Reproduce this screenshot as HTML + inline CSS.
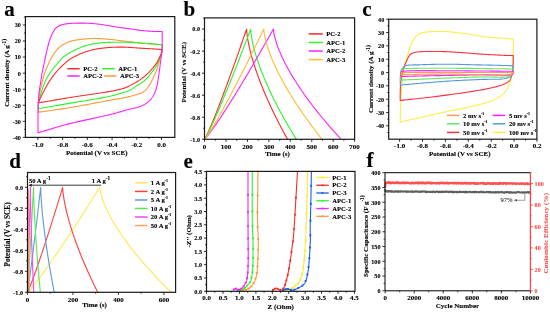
<!DOCTYPE html>
<html><head><meta charset="utf-8"><style>
html,body{margin:0;padding:0;background:#fff;width:550px;height:312px;overflow:hidden}
svg{display:block;font-family:"Liberation Serif", serif;will-change:transform;filter:blur(0.3px)}
</style></head><body>
<svg width="550" height="312" viewBox="0 0 550 312">
<rect x="0" y="0" width="550" height="312" fill="#fff"/>
<path d="M38.1,112.3 L40.92,111.89 L43.73,111.49 L46.53,111.09 L49.33,110.69 L52.13,110.3 L54.94,109.9 L57.75,109.5 L60.57,109.09 L63.4,108.66 L66.24,108.23 L69.11,107.77 L72,107.3 L75.17,106.76 L78.5,106.17 L81.93,105.54 L85.42,104.88 L88.93,104.22 L92.4,103.55 L95.8,102.9 L99.07,102.26 L102.17,101.67 L105.06,101.12 L107.68,100.62 L110,100.2 L111.06,100.01 L112.06,99.84 L113,99.68 L113.89,99.53 L114.73,99.39 L115.54,99.26 L116.32,99.14 L117.07,99.01 L117.81,98.89 L118.54,98.76 L119.27,98.63 L120,98.5 L120.58,98.39 L121.13,98.29 L121.67,98.19 L122.19,98.09 L122.69,97.99 L123.2,97.89 L123.7,97.78 L124.21,97.68 L124.73,97.57 L125.26,97.45 L125.82,97.33 L126.4,97.2 L127.18,97.02 L128.01,96.84 L128.87,96.64 L129.75,96.44 L130.65,96.23 L131.56,96.01 L132.47,95.78 L133.37,95.56 L134.25,95.32 L135.1,95.08 L135.92,94.84 L136.7,94.6 L137.31,94.4 L137.92,94.2 L138.52,94 L139.11,93.79 L139.69,93.58 L140.25,93.37 L140.8,93.15 L141.33,92.93 L141.83,92.7 L142.32,92.47 L142.77,92.24 L143.2,92 L143.48,91.83 L143.75,91.66 L143.99,91.49 L144.23,91.32 L144.46,91.14 L144.67,90.96 L144.88,90.78 L145.09,90.6 L145.29,90.41 L145.49,90.21 L145.69,90.01 L145.9,89.8 L146.12,89.57 L146.33,89.34 L146.53,89.09 L146.74,88.85 L146.93,88.59 L147.13,88.34 L147.32,88.07 L147.52,87.81 L147.71,87.53 L147.91,87.26 L148.1,86.98 L148.3,86.7 L148.53,86.38 L148.76,86.05 L148.99,85.72 L149.22,85.38 L149.45,85.03 L149.68,84.68 L149.91,84.33 L150.13,83.97 L150.36,83.61 L150.57,83.24 L150.79,82.87 L151,82.5 L151.22,82.1 L151.43,81.7 L151.63,81.29 L151.83,80.88 L152.02,80.47 L152.22,80.05 L152.41,79.62 L152.6,79.19 L152.8,78.75 L152.99,78.31 L153.19,77.86 L153.4,77.4 L153.65,76.85 L153.91,76.29 L154.18,75.72 L154.45,75.13 L154.72,74.54 L154.99,73.94 L155.26,73.34 L155.53,72.73 L155.79,72.12 L156.04,71.51 L156.27,70.9 L156.5,70.3 L156.71,69.7 L156.91,69.09 L157.1,68.47 L157.29,67.84 L157.47,67.21 L157.65,66.59 L157.81,65.97 L157.98,65.36 L158.14,64.76 L158.29,64.19 L158.45,63.63 L158.6,63.1 L158.71,62.72 L158.82,62.36 L158.92,62 L159.02,61.66 L159.12,61.33 L159.22,61 L159.31,60.68 L159.41,60.35 L159.5,60.03 L159.6,59.69 L159.7,59.35 L159.8,59 L159.92,58.6 L160.03,58.19 L160.16,57.78 L160.28,57.36 L160.4,56.94 L160.52,56.52 L160.64,56.09 L160.76,55.67 L160.88,55.25 L160.99,54.83 L161.1,54.41 L161.2,54 L161.29,53.62 L161.37,53.24 L161.45,52.86 L161.53,52.49 L161.6,52.11 L161.68,51.74 L161.75,51.37 L161.81,50.99 L161.88,50.62 L161.95,50.25 L162.03,49.87 L162.1,49.5 L162.1,49.5 L162.1,49.1 L162.1,48.7 L162.1,48.3 L162.1,47.9 L162.1,47.5 L162.1,47.1 L162.1,46.7 L162.1,46.3 L162.1,45.9 L162.1,45.5 L162.1,45.1 L162.1,44.7 L162.1,44.7 L161.4,44.65 L160.7,44.6 L160,44.55 L159.31,44.51 L158.62,44.46 L157.92,44.41 L157.22,44.36 L156.52,44.31 L155.81,44.26 L155.08,44.21 L154.35,44.16 L153.6,44.1 L152.72,44.03 L151.82,43.97 L150.91,43.9 L149.98,43.83 L149.04,43.76 L148.09,43.69 L147.14,43.61 L146.19,43.54 L145.23,43.46 L144.28,43.38 L143.34,43.29 L142.4,43.2 L141.46,43.1 L140.5,43 L139.54,42.9 L138.57,42.78 L137.61,42.67 L136.64,42.55 L135.69,42.44 L134.75,42.32 L133.83,42.21 L132.92,42.1 L132.05,42 L131.2,41.9 L130.55,41.83 L129.93,41.76 L129.33,41.69 L128.74,41.63 L128.17,41.57 L127.61,41.51 L127.04,41.45 L126.46,41.38 L125.88,41.32 L125.28,41.25 L124.65,41.18 L124,41.1 L123.13,40.99 L122.23,40.87 L121.29,40.75 L120.33,40.62 L119.35,40.48 L118.36,40.34 L117.36,40.21 L116.36,40.07 L115.37,39.94 L114.39,39.82 L113.43,39.7 L112.5,39.6 L111.66,39.51 L110.84,39.43 L110.02,39.35 L109.21,39.27 L108.4,39.2 L107.6,39.13 L106.8,39.07 L106,39.01 L105.2,38.95 L104.41,38.9 L103.6,38.85 L102.8,38.8 L102,38.75 L101.2,38.71 L100.4,38.67 L99.6,38.63 L98.8,38.59 L98,38.56 L97.2,38.54 L96.4,38.52 L95.6,38.5 L94.8,38.49 L94,38.49 L93.2,38.5 L92.39,38.52 L91.57,38.54 L90.74,38.58 L89.9,38.62 L89.07,38.67 L88.24,38.72 L87.42,38.78 L86.61,38.84 L85.82,38.9 L85.05,38.97 L84.31,39.03 L83.6,39.1 L83.08,39.15 L82.58,39.2 L82.1,39.25 L81.63,39.31 L81.17,39.36 L80.72,39.42 L80.28,39.47 L79.83,39.54 L79.39,39.6 L78.93,39.66 L78.47,39.73 L78,39.8 L77.48,39.88 L76.96,39.95 L76.43,40.03 L75.89,40.1 L75.35,40.18 L74.81,40.27 L74.28,40.36 L73.74,40.45 L73.22,40.55 L72.7,40.66 L72.19,40.77 L71.7,40.9 L71.26,41.02 L70.84,41.15 L70.42,41.28 L70,41.42 L69.59,41.56 L69.19,41.71 L68.79,41.86 L68.39,42.02 L67.99,42.18 L67.6,42.35 L67.2,42.52 L66.8,42.7 L66.39,42.89 L65.98,43.08 L65.58,43.27 L65.17,43.47 L64.77,43.67 L64.37,43.88 L63.97,44.09 L63.57,44.32 L63.17,44.55 L62.78,44.79 L62.39,45.04 L62,45.3 L61.59,45.59 L61.17,45.89 L60.76,46.19 L60.35,46.51 L59.95,46.83 L59.54,47.16 L59.14,47.51 L58.74,47.86 L58.35,48.23 L57.96,48.61 L57.58,49 L57.2,49.4 L56.77,49.88 L56.34,50.39 L55.92,50.91 L55.5,51.46 L55.09,52.02 L54.68,52.59 L54.28,53.17 L53.88,53.76 L53.5,54.34 L53.12,54.93 L52.76,55.52 L52.4,56.1 L52.07,56.66 L51.75,57.22 L51.44,57.78 L51.14,58.34 L50.85,58.9 L50.57,59.47 L50.29,60.04 L50.02,60.62 L49.74,61.2 L49.46,61.79 L49.18,62.39 L48.9,63 L48.58,63.68 L48.27,64.36 L47.95,65.04 L47.63,65.74 L47.31,66.44 L46.99,67.15 L46.68,67.87 L46.37,68.59 L46.07,69.33 L45.77,70.08 L45.48,70.83 L45.2,71.6 L44.9,72.47 L44.6,73.37 L44.31,74.28 L44.03,75.2 L43.76,76.14 L43.49,77.09 L43.23,78.04 L42.97,79 L42.72,79.95 L42.48,80.91 L42.24,81.86 L42,82.8 L41.77,83.73 L41.54,84.67 L41.32,85.62 L41.1,86.57 L40.89,87.52 L40.68,88.47 L40.48,89.41 L40.29,90.35 L40.1,91.28 L39.93,92.2 L39.76,93.11 L39.6,94 L39.47,94.78 L39.34,95.55 L39.22,96.31 L39.1,97.06 L38.99,97.81 L38.89,98.55 L38.79,99.28 L38.7,100.02 L38.62,100.76 L38.54,101.5 L38.47,102.25 L38.4,103 L38.34,103.77 L38.3,104.54 L38.26,105.31 L38.23,106.09 L38.21,106.86 L38.19,107.64 L38.18,108.42 L38.17,109.19 L38.15,109.97 L38.14,110.75 L38.12,111.52 L38.1,112.3" fill="none" stroke="#ff9838" stroke-width="1.1" stroke-linejoin="round" stroke-linecap="round" />
<path d="M38.1,108.7 L40.92,108.22 L43.73,107.74 L46.53,107.26 L49.33,106.78 L52.13,106.3 L54.93,105.83 L57.74,105.35 L60.56,104.86 L63.39,104.38 L66.24,103.89 L69.11,103.4 L72,102.9 L75.17,102.36 L78.49,101.81 L81.93,101.25 L85.42,100.68 L88.93,100.1 L92.41,99.53 L95.81,98.96 L99.08,98.4 L102.18,97.85 L105.07,97.31 L107.69,96.8 L110,96.3 L111.07,96.05 L112.05,95.81 L112.97,95.58 L113.82,95.35 L114.63,95.13 L115.41,94.91 L116.16,94.68 L116.91,94.46 L117.65,94.23 L118.41,93.99 L119.19,93.75 L120,93.5 L120.87,93.24 L121.75,92.98 L122.65,92.73 L123.56,92.47 L124.46,92.21 L125.36,91.94 L126.25,91.66 L127.12,91.38 L127.97,91.08 L128.79,90.77 L129.56,90.44 L130.3,90.1 L130.85,89.81 L131.38,89.5 L131.89,89.19 L132.37,88.86 L132.84,88.52 L133.3,88.18 L133.75,87.84 L134.2,87.5 L134.64,87.16 L135.09,86.83 L135.54,86.51 L136,86.2 L136.43,85.93 L136.86,85.66 L137.29,85.41 L137.72,85.16 L138.15,84.91 L138.57,84.67 L139,84.42 L139.42,84.17 L139.84,83.92 L140.26,83.66 L140.68,83.38 L141.1,83.1 L141.54,82.79 L141.98,82.48 L142.43,82.17 L142.87,81.85 L143.31,81.53 L143.74,81.19 L144.18,80.86 L144.61,80.51 L145.04,80.15 L145.47,79.78 L145.89,79.4 L146.3,79 L146.75,78.55 L147.19,78.08 L147.63,77.59 L148.06,77.09 L148.48,76.57 L148.91,76.05 L149.32,75.52 L149.74,74.98 L150.16,74.44 L150.57,73.89 L150.99,73.35 L151.4,72.8 L151.84,72.22 L152.3,71.63 L152.75,71.02 L153.22,70.41 L153.68,69.79 L154.13,69.16 L154.58,68.55 L155.01,67.93 L155.42,67.33 L155.81,66.73 L156.17,66.16 L156.5,65.6 L156.73,65.19 L156.94,64.79 L157.14,64.39 L157.32,64 L157.5,63.62 L157.66,63.24 L157.82,62.86 L157.98,62.48 L158.13,62.11 L158.28,61.74 L158.44,61.37 L158.6,61 L158.75,60.66 L158.9,60.32 L159.05,59.98 L159.2,59.64 L159.35,59.3 L159.49,58.97 L159.63,58.64 L159.77,58.31 L159.91,57.98 L160.04,57.65 L160.17,57.32 L160.3,57 L160.41,56.7 L160.53,56.41 L160.64,56.11 L160.75,55.82 L160.86,55.53 L160.96,55.24 L161.06,54.95 L161.16,54.67 L161.25,54.38 L161.34,54.09 L161.42,53.79 L161.5,53.5 L161.57,53.21 L161.63,52.92 L161.69,52.63 L161.74,52.34 L161.79,52.05 L161.84,51.75 L161.88,51.46 L161.92,51.17 L161.96,50.88 L162.01,50.58 L162.05,50.29 L162.1,50 L162.1,50 L162.1,49.55 L162.1,49.1 L162.1,48.65 L162.1,48.2 L162.1,47.75 L162.1,47.3 L162.1,46.85 L162.1,46.4 L162.1,45.95 L162.1,45.5 L162.1,45.05 L162.1,44.6 L162.1,44.6 L161.4,44.55 L160.7,44.5 L160,44.45 L159.31,44.4 L158.62,44.35 L157.92,44.31 L157.22,44.26 L156.52,44.21 L155.81,44.16 L155.08,44.11 L154.35,44.05 L153.6,44 L152.72,43.94 L151.82,43.87 L150.91,43.81 L149.98,43.74 L149.04,43.68 L148.1,43.61 L147.14,43.54 L146.19,43.47 L145.24,43.4 L144.28,43.33 L143.34,43.27 L142.4,43.2 L141.46,43.13 L140.5,43.06 L139.54,42.99 L138.58,42.91 L137.61,42.84 L136.65,42.76 L135.69,42.69 L134.75,42.62 L133.83,42.56 L132.92,42.5 L132.05,42.45 L131.2,42.4 L130.55,42.37 L129.93,42.34 L129.33,42.32 L128.75,42.3 L128.17,42.28 L127.61,42.26 L127.04,42.25 L126.47,42.23 L125.88,42.22 L125.28,42.21 L124.65,42.21 L124,42.2 L123.13,42.19 L122.23,42.19 L121.29,42.19 L120.33,42.19 L119.35,42.2 L118.36,42.2 L117.36,42.21 L116.36,42.23 L115.37,42.24 L114.39,42.26 L113.43,42.28 L112.5,42.3 L111.66,42.32 L110.83,42.34 L110.01,42.36 L109.2,42.38 L108.4,42.41 L107.59,42.43 L106.79,42.46 L106,42.5 L105.2,42.54 L104.4,42.58 L103.6,42.64 L102.8,42.7 L102,42.77 L101.19,42.84 L100.39,42.92 L99.59,43 L98.79,43.08 L97.99,43.18 L97.19,43.28 L96.39,43.38 L95.59,43.5 L94.79,43.62 L94,43.76 L93.2,43.9 L92.39,44.06 L91.56,44.22 L90.73,44.4 L89.89,44.59 L89.05,44.78 L88.22,44.99 L87.4,45.2 L86.59,45.41 L85.8,45.63 L85.04,45.85 L84.3,46.07 L83.6,46.3 L83.07,46.48 L82.56,46.66 L82.06,46.85 L81.57,47.04 L81.1,47.24 L80.63,47.43 L80.18,47.63 L79.73,47.83 L79.29,48.02 L78.86,48.22 L78.43,48.41 L78,48.6 L77.64,48.76 L77.29,48.92 L76.95,49.07 L76.62,49.23 L76.29,49.38 L75.96,49.54 L75.64,49.69 L75.31,49.85 L74.99,50.01 L74.66,50.17 L74.33,50.33 L74,50.5 L73.65,50.68 L73.3,50.85 L72.95,51.03 L72.6,51.2 L72.26,51.38 L71.91,51.56 L71.55,51.75 L71.2,51.94 L70.83,52.14 L70.46,52.35 L70.09,52.57 L69.7,52.8 L69.18,53.11 L68.63,53.45 L68.05,53.8 L67.47,54.16 L66.87,54.54 L66.27,54.93 L65.67,55.32 L65.08,55.72 L64.52,56.12 L63.98,56.52 L63.47,56.91 L63,57.3 L62.66,57.61 L62.33,57.92 L62.02,58.23 L61.72,58.54 L61.43,58.86 L61.16,59.18 L60.89,59.49 L60.63,59.8 L60.37,60.11 L60.11,60.41 L59.86,60.71 L59.6,61 L59.39,61.24 L59.18,61.46 L58.98,61.68 L58.79,61.9 L58.6,62.11 L58.41,62.32 L58.22,62.53 L58.02,62.75 L57.83,62.97 L57.63,63.2 L57.42,63.45 L57.2,63.7 L56.9,64.05 L56.6,64.41 L56.28,64.78 L55.96,65.15 L55.63,65.54 L55.3,65.94 L54.96,66.35 L54.62,66.78 L54.27,67.21 L53.92,67.66 L53.56,68.12 L53.2,68.6 L52.7,69.27 L52.18,69.97 L51.63,70.71 L51.07,71.47 L50.5,72.25 L49.93,73.06 L49.37,73.87 L48.81,74.7 L48.27,75.53 L47.75,76.36 L47.26,77.18 L46.8,78 L46.39,78.78 L46,79.57 L45.63,80.36 L45.27,81.16 L44.93,81.97 L44.6,82.77 L44.28,83.58 L43.97,84.39 L43.67,85.2 L43.37,86 L43.09,86.8 L42.8,87.6 L42.54,88.35 L42.28,89.1 L42.03,89.86 L41.79,90.62 L41.55,91.37 L41.33,92.12 L41.11,92.87 L40.89,93.61 L40.68,94.35 L40.48,95.08 L40.29,95.79 L40.1,96.5 L39.94,97.11 L39.78,97.72 L39.62,98.33 L39.47,98.93 L39.32,99.52 L39.18,100.11 L39.04,100.69 L38.92,101.27 L38.8,101.84 L38.69,102.4 L38.59,102.95 L38.5,103.5 L38.44,103.96 L38.38,104.41 L38.34,104.85 L38.3,105.29 L38.27,105.72 L38.24,106.14 L38.22,106.57 L38.2,106.99 L38.18,107.42 L38.16,107.84 L38.13,108.27 L38.1,108.7" fill="none" stroke="#2bf52b" stroke-width="1.1" stroke-linejoin="round" stroke-linecap="round" />
<path d="M38.1,102.9 L38.78,102.79 L39.43,102.68 L40.07,102.57 L40.7,102.46 L41.33,102.36 L41.97,102.25 L42.62,102.14 L43.3,102.02 L44,101.9 L44.75,101.78 L45.55,101.64 L46.4,101.5 L48.03,101.22 L49.79,100.92 L51.69,100.6 L53.7,100.25 L55.81,99.89 L58,99.52 L60.26,99.14 L62.57,98.75 L64.91,98.35 L67.28,97.96 L69.64,97.58 L72,97.2 L74.98,96.74 L78.18,96.25 L81.55,95.76 L85.02,95.26 L88.54,94.75 L92.06,94.25 L95.53,93.75 L98.87,93.26 L102.05,92.79 L105,92.33 L107.67,91.9 L110,91.5 L111.07,91.31 L112.06,91.13 L112.99,90.96 L113.86,90.8 L114.69,90.64 L115.49,90.48 L116.25,90.32 L117,90.15 L117.74,89.98 L118.48,89.8 L119.23,89.61 L120,89.4 L120.7,89.2 L121.4,89 L122.08,88.79 L122.75,88.58 L123.42,88.36 L124.08,88.14 L124.74,87.9 L125.39,87.66 L126.04,87.41 L126.69,87.15 L127.35,86.88 L128,86.6 L128.68,86.29 L129.37,85.96 L130.07,85.62 L130.76,85.26 L131.45,84.89 L132.14,84.52 L132.82,84.14 L133.49,83.76 L134.14,83.39 L134.78,83.02 L135.4,82.65 L136,82.3 L136.47,82.02 L136.93,81.75 L137.37,81.48 L137.8,81.21 L138.22,80.94 L138.64,80.68 L139.05,80.41 L139.46,80.14 L139.86,79.86 L140.27,79.58 L140.68,79.3 L141.1,79 L141.54,78.68 L141.98,78.37 L142.42,78.04 L142.85,77.71 L143.29,77.38 L143.73,77.04 L144.16,76.7 L144.6,76.35 L145.03,76 L145.45,75.64 L145.88,75.27 L146.3,74.9 L146.74,74.5 L147.17,74.1 L147.61,73.69 L148.04,73.27 L148.47,72.85 L148.89,72.42 L149.32,71.98 L149.74,71.54 L150.16,71.09 L150.57,70.63 L150.99,70.17 L151.4,69.7 L151.85,69.18 L152.3,68.64 L152.76,68.08 L153.23,67.52 L153.69,66.94 L154.14,66.36 L154.58,65.78 L155.01,65.21 L155.42,64.65 L155.81,64.11 L156.17,63.59 L156.5,63.1 L156.71,62.77 L156.91,62.45 L157.1,62.15 L157.27,61.85 L157.44,61.55 L157.6,61.26 L157.75,60.98 L157.9,60.69 L158.05,60.4 L158.2,60.11 L158.35,59.81 L158.5,59.5 L158.66,59.18 L158.82,58.84 L158.98,58.51 L159.14,58.17 L159.29,57.83 L159.44,57.48 L159.59,57.14 L159.74,56.8 L159.89,56.47 L160.03,56.14 L160.17,55.82 L160.3,55.5 L160.41,55.24 L160.53,54.98 L160.64,54.72 L160.75,54.47 L160.85,54.22 L160.96,53.98 L161.06,53.73 L161.16,53.49 L161.25,53.24 L161.34,53 L161.42,52.75 L161.5,52.5 L161.57,52.26 L161.63,52.02 L161.69,51.78 L161.74,51.54 L161.79,51.29 L161.83,51.05 L161.88,50.81 L161.92,50.57 L161.96,50.33 L162.01,50.08 L162.05,49.84 L162.1,49.6 L162.1,49.6 L161.4,49.54 L160.7,49.48 L160,49.42 L159.31,49.36 L158.62,49.3 L157.92,49.24 L157.23,49.18 L156.52,49.12 L155.81,49.06 L155.08,49.01 L154.35,48.95 L153.6,48.9 L152.72,48.84 L151.82,48.79 L150.91,48.74 L149.98,48.69 L149.04,48.64 L148.1,48.6 L147.14,48.55 L146.19,48.51 L145.24,48.46 L144.28,48.41 L143.34,48.36 L142.4,48.3 L141.46,48.24 L140.5,48.17 L139.54,48.11 L138.58,48.04 L137.61,47.96 L136.65,47.89 L135.69,47.82 L134.75,47.75 L133.83,47.68 L132.92,47.62 L132.05,47.56 L131.2,47.5 L130.55,47.46 L129.93,47.42 L129.33,47.37 L128.75,47.33 L128.17,47.29 L127.61,47.26 L127.04,47.22 L126.47,47.19 L125.88,47.16 L125.28,47.14 L124.65,47.12 L124,47.1 L123.13,47.09 L122.23,47.08 L121.29,47.08 L120.33,47.08 L119.35,47.09 L118.36,47.11 L117.36,47.13 L116.36,47.15 L115.37,47.18 L114.39,47.22 L113.43,47.26 L112.5,47.3 L111.66,47.34 L110.83,47.39 L110.01,47.44 L109.2,47.49 L108.39,47.55 L107.59,47.61 L106.79,47.68 L105.99,47.75 L105.2,47.83 L104.4,47.91 L103.6,48 L102.8,48.1 L102,48.2 L101.19,48.31 L100.39,48.41 L99.59,48.53 L98.79,48.65 L97.98,48.77 L97.18,48.9 L96.39,49.04 L95.59,49.19 L94.79,49.35 L93.99,49.52 L93.2,49.7 L92.39,49.89 L91.59,50.09 L90.78,50.3 L89.98,50.52 L89.18,50.75 L88.38,50.99 L87.58,51.24 L86.78,51.49 L85.98,51.75 L85.19,52.03 L84.39,52.31 L83.6,52.6 L82.78,52.91 L81.94,53.25 L81.09,53.6 L80.24,53.96 L79.38,54.34 L78.54,54.72 L77.71,55.1 L76.9,55.48 L76.12,55.85 L75.37,56.21 L74.66,56.56 L74,56.9 L73.57,57.12 L73.16,57.34 L72.77,57.55 L72.39,57.76 L72.02,57.96 L71.67,58.17 L71.32,58.37 L70.98,58.57 L70.66,58.78 L70.33,58.98 L70.01,59.19 L69.7,59.4 L69.44,59.58 L69.19,59.76 L68.95,59.94 L68.71,60.12 L68.48,60.3 L68.25,60.48 L68.03,60.66 L67.8,60.85 L67.58,61.03 L67.36,61.22 L67.13,61.41 L66.9,61.6 L66.66,61.8 L66.43,61.99 L66.2,62.18 L65.97,62.37 L65.74,62.57 L65.51,62.76 L65.27,62.96 L65.04,63.17 L64.79,63.39 L64.54,63.61 L64.27,63.85 L64,64.1 L63.57,64.49 L63.12,64.91 L62.65,65.34 L62.16,65.79 L61.66,66.26 L61.15,66.75 L60.63,67.26 L60.1,67.78 L59.57,68.31 L59.04,68.86 L58.52,69.42 L58,70 L57.35,70.75 L56.68,71.54 L55.99,72.36 L55.3,73.22 L54.61,74.09 L53.91,74.99 L53.22,75.89 L52.54,76.81 L51.87,77.72 L51.22,78.63 L50.6,79.52 L50,80.4 L49.47,81.2 L48.95,82.02 L48.44,82.84 L47.94,83.66 L47.46,84.48 L46.98,85.31 L46.52,86.12 L46.07,86.93 L45.63,87.72 L45.21,88.5 L44.8,89.26 L44.4,90 L44.09,90.58 L43.8,91.15 L43.52,91.7 L43.24,92.25 L42.98,92.79 L42.72,93.32 L42.47,93.85 L42.22,94.38 L41.97,94.9 L41.72,95.43 L41.46,95.96 L41.2,96.5 L40.94,97.03 L40.68,97.57 L40.42,98.1 L40.16,98.64 L39.9,99.17 L39.65,99.7 L39.39,100.24 L39.13,100.77 L38.87,101.3 L38.62,101.83 L38.36,102.37 L38.1,102.9" fill="none" stroke="#ff2a2a" stroke-width="1.1" stroke-linejoin="round" stroke-linecap="round" />
<path d="M38,132.8 L38.69,132.6 L39.37,132.41 L40.05,132.22 L40.72,132.03 L41.39,131.84 L42.06,131.65 L42.74,131.46 L43.43,131.26 L44.14,131.06 L44.87,130.85 L45.62,130.63 L46.4,130.4 L47.48,130.08 L48.61,129.73 L49.79,129.37 L51.01,129 L52.26,128.61 L53.52,128.22 L54.79,127.82 L56.06,127.43 L57.31,127.05 L58.55,126.68 L59.74,126.33 L60.9,126 L61.85,125.73 L62.75,125.48 L63.62,125.24 L64.46,125.01 L65.29,124.79 L66.12,124.57 L66.97,124.35 L67.86,124.12 L68.79,123.89 L69.78,123.64 L70.84,123.38 L72,123.1 L74.45,122.52 L77.3,121.87 L80.48,121.16 L83.89,120.41 L87.46,119.63 L91.11,118.84 L94.76,118.04 L98.31,117.27 L101.69,116.52 L104.82,115.81 L107.62,115.17 L110,114.6 L111.07,114.33 L112.07,114.08 L113.01,113.84 L113.9,113.6 L114.74,113.38 L115.55,113.16 L116.32,112.94 L117.08,112.73 L117.81,112.52 L118.54,112.32 L119.27,112.11 L120,111.9 L120.58,111.73 L121.12,111.57 L121.65,111.42 L122.16,111.26 L122.66,111.11 L123.15,110.95 L123.65,110.8 L124.15,110.65 L124.68,110.49 L125.22,110.33 L125.79,110.17 L126.4,110 L127.32,109.76 L128.32,109.52 L129.37,109.29 L130.47,109.05 L131.6,108.8 L132.75,108.55 L133.9,108.29 L135.04,108.02 L136.15,107.74 L137.23,107.44 L138.25,107.13 L139.2,106.8 L139.93,106.52 L140.65,106.24 L141.34,105.95 L142.02,105.65 L142.69,105.35 L143.34,105.03 L143.97,104.71 L144.59,104.37 L145.19,104.03 L145.77,103.67 L146.34,103.29 L146.9,102.9 L147.4,102.53 L147.88,102.15 L148.35,101.76 L148.8,101.36 L149.25,100.95 L149.68,100.52 L150.1,100.09 L150.5,99.65 L150.89,99.2 L151.28,98.74 L151.64,98.28 L152,97.8 L152.34,97.31 L152.67,96.81 L152.98,96.3 L153.28,95.77 L153.57,95.24 L153.85,94.7 L154.11,94.15 L154.37,93.6 L154.61,93.05 L154.85,92.5 L155.08,91.95 L155.3,91.4 L155.5,90.88 L155.7,90.36 L155.88,89.84 L156.05,89.32 L156.21,88.8 L156.37,88.28 L156.52,87.75 L156.66,87.22 L156.8,86.68 L156.93,86.13 L157.07,85.57 L157.2,85 L157.35,84.34 L157.48,83.66 L157.61,82.97 L157.73,82.26 L157.85,81.55 L157.96,80.83 L158.07,80.11 L158.18,79.38 L158.28,78.66 L158.39,77.93 L158.49,77.21 L158.6,76.5 L158.71,75.79 L158.82,75.07 L158.92,74.36 L159.03,73.64 L159.13,72.92 L159.23,72.2 L159.33,71.48 L159.43,70.77 L159.53,70.07 L159.62,69.37 L159.71,68.68 L159.8,68 L159.88,67.39 L159.95,66.79 L160.01,66.19 L160.08,65.6 L160.14,65.01 L160.2,64.42 L160.26,63.84 L160.32,63.27 L160.39,62.69 L160.45,62.13 L160.52,61.56 L160.6,61 L160.68,60.48 L160.76,59.97 L160.84,59.45 L160.93,58.94 L161.02,58.44 L161.11,57.94 L161.2,57.44 L161.28,56.94 L161.37,56.45 L161.45,55.96 L161.53,55.48 L161.6,55 L161.66,54.57 L161.72,54.14 L161.77,53.72 L161.82,53.3 L161.87,52.89 L161.92,52.47 L161.96,52.06 L162.01,51.65 L162.06,51.24 L162.1,50.83 L162.15,50.42 L162.2,50 L162.2,50 L162.2,48.46 L162.2,46.92 L162.2,45.38 L162.2,43.83 L162.2,42.29 L162.2,40.75 L162.2,39.21 L162.2,37.67 L162.2,36.12 L162.2,34.58 L162.2,33.04 L162.2,31.5 L162.2,31.5 L161.49,31.49 L160.78,31.49 L160.08,31.49 L159.37,31.49 L158.67,31.49 L157.97,31.49 L157.26,31.48 L156.55,31.47 L155.83,31.46 L155.1,31.45 L154.36,31.43 L153.6,31.4 L152.72,31.36 L151.82,31.32 L150.9,31.27 L149.97,31.22 L149.04,31.16 L148.09,31.1 L147.14,31.03 L146.18,30.95 L145.23,30.87 L144.28,30.79 L143.34,30.7 L142.4,30.6 L141.47,30.49 L140.53,30.38 L139.6,30.25 L138.66,30.12 L137.73,29.98 L136.8,29.84 L135.86,29.7 L134.93,29.56 L134,29.41 L133.07,29.27 L132.13,29.13 L131.2,29 L130.26,28.87 L129.32,28.75 L128.38,28.62 L127.43,28.5 L126.49,28.37 L125.54,28.25 L124.6,28.13 L123.66,28.01 L122.73,27.88 L121.81,27.76 L120.9,27.63 L120,27.5 L119.19,27.38 L118.39,27.26 L117.62,27.14 L116.85,27.02 L116.09,26.9 L115.33,26.77 L114.56,26.65 L113.79,26.52 L113,26.39 L112.19,26.27 L111.36,26.13 L110.5,26 L109.39,25.83 L108.25,25.64 L107.07,25.44 L105.87,25.24 L104.64,25.03 L103.4,24.83 L102.14,24.63 L100.88,24.44 L99.63,24.25 L98.37,24.08 L97.13,23.93 L95.9,23.8 L94.69,23.69 L93.49,23.58 L92.28,23.49 L91.07,23.41 L89.86,23.33 L88.65,23.27 L87.45,23.22 L86.24,23.18 L85.03,23.14 L83.82,23.12 L82.61,23.1 L81.4,23.1 L80.17,23.1 L78.91,23.11 L77.63,23.13 L76.35,23.15 L75.06,23.19 L73.78,23.23 L72.52,23.29 L71.29,23.36 L70.09,23.44 L68.94,23.55 L67.84,23.66 L66.8,23.8 L66.09,23.9 L65.4,24.01 L64.73,24.12 L64.08,24.24 L63.45,24.36 L62.83,24.49 L62.24,24.64 L61.66,24.79 L61.09,24.97 L60.55,25.16 L60.02,25.37 L59.5,25.6 L59.08,25.81 L58.67,26.04 L58.27,26.28 L57.88,26.53 L57.51,26.79 L57.15,27.07 L56.8,27.35 L56.46,27.64 L56.13,27.94 L55.81,28.25 L55.5,28.57 L55.2,28.9 L54.91,29.24 L54.64,29.59 L54.38,29.96 L54.13,30.34 L53.89,30.73 L53.65,31.13 L53.43,31.53 L53.22,31.93 L53.01,32.33 L52.8,32.73 L52.6,33.12 L52.4,33.5 L52.22,33.84 L52.06,34.17 L51.89,34.51 L51.73,34.84 L51.58,35.17 L51.43,35.5 L51.29,35.84 L51.15,36.17 L51.01,36.5 L50.87,36.83 L50.73,37.16 L50.6,37.5 L50.47,37.83 L50.35,38.14 L50.23,38.45 L50.11,38.76 L50,39.07 L49.89,39.38 L49.78,39.7 L49.67,40.03 L49.55,40.37 L49.44,40.73 L49.32,41.1 L49.2,41.5 L49.01,42.16 L48.8,42.87 L48.6,43.63 L48.39,44.42 L48.17,45.25 L47.96,46.1 L47.74,46.96 L47.53,47.84 L47.31,48.71 L47.11,49.59 L46.9,50.45 L46.7,51.3 L46.5,52.17 L46.3,53.06 L46.1,53.95 L45.91,54.84 L45.71,55.74 L45.52,56.64 L45.33,57.54 L45.15,58.44 L44.96,59.34 L44.77,60.23 L44.59,61.12 L44.4,62 L44.22,62.84 L44.04,63.69 L43.85,64.52 L43.67,65.36 L43.49,66.19 L43.31,67.02 L43.13,67.85 L42.96,68.68 L42.79,69.5 L42.62,70.33 L42.46,71.17 L42.3,72 L42.15,72.84 L42,73.68 L41.86,74.52 L41.72,75.37 L41.59,76.22 L41.46,77.07 L41.33,77.91 L41.2,78.75 L41.08,79.58 L40.95,80.4 L40.83,81.21 L40.7,82 L40.59,82.7 L40.47,83.38 L40.36,84.05 L40.24,84.71 L40.13,85.37 L40.02,86.02 L39.9,86.68 L39.8,87.33 L39.69,87.99 L39.59,88.65 L39.49,89.32 L39.4,90 L39.31,90.73 L39.22,91.46 L39.13,92.19 L39.05,92.92 L38.96,93.66 L38.89,94.41 L38.81,95.16 L38.74,95.91 L38.68,96.67 L38.61,97.44 L38.56,98.22 L38.5,99 L38.44,99.86 L38.39,100.72 L38.35,101.58 L38.31,102.44 L38.28,103.3 L38.24,104.18 L38.22,105.08 L38.19,106 L38.17,106.94 L38.14,107.92 L38.12,108.94 L38.1,110 L38.07,111.61 L38.05,113.32 L38.04,115.12 L38.03,116.99 L38.02,118.92 L38.01,120.89 L38.01,122.88 L38.01,124.9 L38.01,126.91 L38.01,128.9 L38.01,130.87 L38,132.8" fill="none" stroke="#ff22ff" stroke-width="1.1" stroke-linejoin="round" stroke-linecap="round" />
<rect x="25.4" y="16.6" width="149.4" height="120.8" fill="none" stroke="#1a1a1a" stroke-width="1.2"/>
<line x1="37.9" y1="137.4" x2="37.9" y2="140" stroke="#000" stroke-width="0.8"/>
<line x1="62.62" y1="137.4" x2="62.62" y2="140" stroke="#000" stroke-width="0.8"/>
<line x1="87.34" y1="137.4" x2="87.34" y2="140" stroke="#000" stroke-width="0.8"/>
<line x1="112.06" y1="137.4" x2="112.06" y2="140" stroke="#000" stroke-width="0.8"/>
<line x1="136.78" y1="137.4" x2="136.78" y2="140" stroke="#000" stroke-width="0.8"/>
<line x1="161.5" y1="137.4" x2="161.5" y2="140" stroke="#000" stroke-width="0.8"/>
<line x1="50.26" y1="137.4" x2="50.26" y2="138.9" stroke="#000" stroke-width="0.7"/>
<line x1="74.98" y1="137.4" x2="74.98" y2="138.9" stroke="#000" stroke-width="0.7"/>
<line x1="99.7" y1="137.4" x2="99.7" y2="138.9" stroke="#000" stroke-width="0.7"/>
<line x1="124.42" y1="137.4" x2="124.42" y2="138.9" stroke="#000" stroke-width="0.7"/>
<line x1="149.14" y1="137.4" x2="149.14" y2="138.9" stroke="#000" stroke-width="0.7"/>
<text x="37.9" y="146.8" font-size="7.0" text-anchor="middle" fill="#000" font-weight="bold" stroke="#000" stroke-width="0.12" >-1.0</text>
<text x="62.62" y="146.8" font-size="7.0" text-anchor="middle" fill="#000" font-weight="bold" stroke="#000" stroke-width="0.12" >-0.8</text>
<text x="87.34" y="146.8" font-size="7.0" text-anchor="middle" fill="#000" font-weight="bold" stroke="#000" stroke-width="0.12" >-0.6</text>
<text x="112.06" y="146.8" font-size="7.0" text-anchor="middle" fill="#000" font-weight="bold" stroke="#000" stroke-width="0.12" >-0.4</text>
<text x="136.78" y="146.8" font-size="7.0" text-anchor="middle" fill="#000" font-weight="bold" stroke="#000" stroke-width="0.12" >-0.2</text>
<text x="161.5" y="146.8" font-size="7.0" text-anchor="middle" fill="#000" font-weight="bold" stroke="#000" stroke-width="0.12" >0.0</text>
<line x1="25.4" y1="137.4" x2="22.8" y2="137.4" stroke="#000" stroke-width="0.8"/>
<line x1="25.4" y1="121.34" x2="22.8" y2="121.34" stroke="#000" stroke-width="0.8"/>
<line x1="25.4" y1="105.28" x2="22.8" y2="105.28" stroke="#000" stroke-width="0.8"/>
<line x1="25.4" y1="89.22" x2="22.8" y2="89.22" stroke="#000" stroke-width="0.8"/>
<line x1="25.4" y1="73.16" x2="22.8" y2="73.16" stroke="#000" stroke-width="0.8"/>
<line x1="25.4" y1="57.1" x2="22.8" y2="57.1" stroke="#000" stroke-width="0.8"/>
<line x1="25.4" y1="41.04" x2="22.8" y2="41.04" stroke="#000" stroke-width="0.8"/>
<line x1="25.4" y1="24.98" x2="22.8" y2="24.98" stroke="#000" stroke-width="0.8"/>
<line x1="25.4" y1="129.37" x2="23.9" y2="129.37" stroke="#000" stroke-width="0.7"/>
<line x1="25.4" y1="113.31" x2="23.9" y2="113.31" stroke="#000" stroke-width="0.7"/>
<line x1="25.4" y1="97.25" x2="23.9" y2="97.25" stroke="#000" stroke-width="0.7"/>
<line x1="25.4" y1="81.19" x2="23.9" y2="81.19" stroke="#000" stroke-width="0.7"/>
<line x1="25.4" y1="65.13" x2="23.9" y2="65.13" stroke="#000" stroke-width="0.7"/>
<line x1="25.4" y1="49.07" x2="23.9" y2="49.07" stroke="#000" stroke-width="0.7"/>
<line x1="25.4" y1="33.01" x2="23.9" y2="33.01" stroke="#000" stroke-width="0.7"/>
<line x1="25.4" y1="16.95" x2="23.9" y2="16.95" stroke="#000" stroke-width="0.7"/>
<text x="0" y="0" font-size="7.0" text-anchor="end" fill="#000" font-weight="bold" stroke="#000" stroke-width="0.12" transform="translate(20.9,139.78) scale(0.88,1)">-40</text>
<text x="0" y="0" font-size="7.0" text-anchor="end" fill="#000" font-weight="bold" stroke="#000" stroke-width="0.12" transform="translate(20.9,123.72) scale(0.88,1)">-30</text>
<text x="0" y="0" font-size="7.0" text-anchor="end" fill="#000" font-weight="bold" stroke="#000" stroke-width="0.12" transform="translate(20.9,107.66) scale(0.88,1)">-20</text>
<text x="0" y="0" font-size="7.0" text-anchor="end" fill="#000" font-weight="bold" stroke="#000" stroke-width="0.12" transform="translate(20.9,91.6) scale(0.88,1)">-10</text>
<text x="0" y="0" font-size="7.0" text-anchor="end" fill="#000" font-weight="bold" stroke="#000" stroke-width="0.12" transform="translate(20.9,75.54) scale(0.88,1)">0</text>
<text x="0" y="0" font-size="7.0" text-anchor="end" fill="#000" font-weight="bold" stroke="#000" stroke-width="0.12" transform="translate(20.9,59.48) scale(0.88,1)">10</text>
<text x="0" y="0" font-size="7.0" text-anchor="end" fill="#000" font-weight="bold" stroke="#000" stroke-width="0.12" transform="translate(20.9,43.42) scale(0.88,1)">20</text>
<text x="0" y="0" font-size="7.0" text-anchor="end" fill="#000" font-weight="bold" stroke="#000" stroke-width="0.12" transform="translate(20.9,27.36) scale(0.88,1)">30</text>
<text x="96.8" y="154.6" font-size="7.0" text-anchor="middle" fill="#000" font-weight="bold" stroke="#000" stroke-width="0.12" >Potential (V vs SCE)</text>
<text x="0" y="0" font-size="7.0" text-anchor="middle" fill="#000" font-weight="bold" letter-spacing="0" stroke="#000" stroke-width="0.12" transform="translate(9.3,72.7) rotate(-90)">Current density (A g<tspan dy="-3.15" font-size="5.04">-1</tspan>)</text>
<text x="4.2" y="16" font-size="21" text-anchor="start" fill="#000" font-weight="bold" stroke="#000" stroke-width="0.12" >a</text>
<line x1="67.3" y1="68.7" x2="79.7" y2="68.7" stroke="#ff2a2a" stroke-width="1.5"/>
<text x="83.3" y="70.9" font-size="6.6" text-anchor="start" fill="#000" font-weight="bold" stroke="#000" stroke-width="0.12" >PC-2</text>
<line x1="102.2" y1="68.7" x2="114.6" y2="68.7" stroke="#2bf52b" stroke-width="1.5"/>
<text x="118.2" y="70.9" font-size="6.6" text-anchor="start" fill="#000" font-weight="bold" stroke="#000" stroke-width="0.12" >APC-1</text>
<line x1="67.3" y1="76" x2="79.7" y2="76" stroke="#ff22ff" stroke-width="1.5"/>
<text x="83.3" y="78.2" font-size="6.6" text-anchor="start" fill="#000" font-weight="bold" stroke="#000" stroke-width="0.12" >APC-2</text>
<line x1="104" y1="76" x2="116.4" y2="76" stroke="#ff9838" stroke-width="1.5"/>
<text x="120" y="78.2" font-size="6.6" text-anchor="start" fill="#000" font-weight="bold" stroke="#000" stroke-width="0.12" >APC-3</text>
<path d="M204.6,139.3 L206.57,135.63 L208.27,131.95 L209.89,128.28 L211.45,124.61 L212.97,120.93 L214.47,117.26 L215.94,113.59 L217.38,109.91 L218.81,106.24 L220.23,102.57 L221.63,98.89 L223.01,95.22 L224.39,91.55 L225.75,87.87 L227.11,84.2 L228.45,80.53 L229.79,76.85 L231.12,73.18 L232.45,69.51 L233.76,65.83 L235.07,62.16 L236.37,58.49 L237.67,54.81 L238.96,51.14 L240.25,47.47 L241.53,43.79 L242.8,40.12 L244.07,36.45 L245.34,32.77 L246.6,29.1 L246.85,32.77 L247.31,36.45 L247.9,40.12 L248.6,43.79 L249.39,47.47 L250.26,51.14 L251.22,54.81 L252.24,58.49 L253.33,62.16 L254.48,65.83 L255.69,69.51 L256.96,73.18 L258.28,76.85 L259.65,80.53 L261.07,84.2 L262.55,87.87 L264.06,91.55 L265.63,95.22 L267.23,98.89 L268.88,102.57 L270.57,106.24 L272.31,109.91 L274.08,113.59 L275.89,117.26 L277.74,120.93 L279.63,124.61 L281.55,128.28 L283.51,131.95 L285.5,135.63 L287.53,139.3" fill="none" stroke="#ff2a2a" stroke-width="1.1" stroke-linejoin="round" stroke-linecap="round" />
<path d="M204.6,139.3 L206.76,135.63 L208.63,131.95 L210.4,128.28 L212.11,124.61 L213.79,120.93 L215.42,117.26 L217.03,113.59 L218.62,109.91 L220.19,106.24 L221.74,102.57 L223.28,98.89 L224.8,95.22 L226.31,91.55 L227.8,87.87 L229.29,84.2 L230.77,80.53 L232.23,76.85 L233.69,73.18 L235.14,69.51 L236.59,65.83 L238.02,62.16 L239.45,58.49 L240.87,54.81 L242.29,51.14 L243.7,47.47 L245.11,43.79 L246.51,40.12 L247.9,36.45 L249.29,32.77 L250.67,29.1 L250.95,32.77 L251.46,36.45 L252.12,40.12 L252.9,43.79 L253.78,47.47 L254.76,51.14 L255.82,54.81 L256.96,58.49 L258.17,62.16 L259.46,65.83 L260.81,69.51 L262.22,73.18 L263.7,76.85 L265.23,80.53 L266.81,84.2 L268.45,87.87 L270.15,91.55 L271.89,95.22 L273.68,98.89 L275.52,102.57 L277.41,106.24 L279.34,109.91 L281.32,113.59 L283.34,117.26 L285.4,120.93 L287.5,124.61 L289.65,128.28 L291.83,131.95 L294.06,135.63 L296.32,139.3" fill="none" stroke="#2bf52b" stroke-width="1.1" stroke-linejoin="round" stroke-linecap="round" />
<path d="M204.6,139.3 L207.82,135.63 L210.61,131.95 L213.26,128.28 L215.82,124.61 L218.31,120.93 L220.76,117.26 L223.17,113.59 L225.54,109.91 L227.88,106.24 L230.19,102.57 L232.49,98.89 L234.76,95.22 L237.01,91.55 L239.24,87.87 L241.46,84.2 L243.67,80.53 L245.86,76.85 L248.04,73.18 L250.2,69.51 L252.36,65.83 L254.5,62.16 L256.64,58.49 L258.76,54.81 L260.87,51.14 L262.98,47.47 L265.08,43.79 L267.17,40.12 L269.25,36.45 L271.32,32.77 L273.39,29.1 L273.8,32.77 L274.56,36.45 L275.53,40.12 L276.69,43.79 L278,47.47 L279.45,51.14 L281.02,54.81 L282.72,58.49 L284.52,62.16 L286.42,65.83 L288.43,69.51 L290.52,73.18 L292.71,76.85 L294.98,80.53 L297.33,84.2 L299.77,87.87 L302.28,91.55 L304.86,95.22 L307.52,98.89 L310.25,102.57 L313.05,106.24 L315.92,109.91 L318.85,113.59 L321.85,117.26 L324.91,120.93 L328.03,124.61 L331.21,128.28 L334.45,131.95 L337.75,135.63 L341.11,139.3" fill="none" stroke="#ff22ff" stroke-width="1.1" stroke-linejoin="round" stroke-linecap="round" />
<path d="M204.6,139.3 L207.37,135.63 L209.77,131.95 L212.05,128.28 L214.25,124.61 L216.39,120.93 L218.49,117.26 L220.56,113.59 L222.6,109.91 L224.61,106.24 L226.61,102.57 L228.58,98.89 L230.53,95.22 L232.47,91.55 L234.39,87.87 L236.3,84.2 L238.19,80.53 L240.08,76.85 L241.95,73.18 L243.81,69.51 L245.66,65.83 L247.51,62.16 L249.34,58.49 L251.17,54.81 L252.99,51.14 L254.8,47.47 L256.6,43.79 L258.4,40.12 L260.19,36.45 L261.97,32.77 L263.75,29.1 L264.1,32.77 L264.75,36.45 L265.59,40.12 L266.58,43.79 L267.71,47.47 L268.96,51.14 L270.32,54.81 L271.77,58.49 L273.32,62.16 L274.96,65.83 L276.69,69.51 L278.49,73.18 L280.37,76.85 L282.33,80.53 L284.36,84.2 L286.45,87.87 L288.61,91.55 L290.84,95.22 L293.13,98.89 L295.48,102.57 L297.88,106.24 L300.35,109.91 L302.88,113.59 L305.46,117.26 L308.09,120.93 L310.78,124.61 L313.52,128.28 L316.31,131.95 L319.15,135.63 L322.04,139.3" fill="none" stroke="#ffbb33" stroke-width="1.1" stroke-linejoin="round" stroke-linecap="round" />
<rect x="204.5" y="17.9" width="150.1" height="121.4" fill="none" stroke="#1a1a1a" stroke-width="1.2"/>
<line x1="204.6" y1="139.3" x2="204.6" y2="141.9" stroke="#000" stroke-width="0.8"/>
<line x1="226.03" y1="139.3" x2="226.03" y2="141.9" stroke="#000" stroke-width="0.8"/>
<line x1="247.46" y1="139.3" x2="247.46" y2="141.9" stroke="#000" stroke-width="0.8"/>
<line x1="268.89" y1="139.3" x2="268.89" y2="141.9" stroke="#000" stroke-width="0.8"/>
<line x1="290.32" y1="139.3" x2="290.32" y2="141.9" stroke="#000" stroke-width="0.8"/>
<line x1="311.75" y1="139.3" x2="311.75" y2="141.9" stroke="#000" stroke-width="0.8"/>
<line x1="333.18" y1="139.3" x2="333.18" y2="141.9" stroke="#000" stroke-width="0.8"/>
<line x1="354.61" y1="139.3" x2="354.61" y2="141.9" stroke="#000" stroke-width="0.8"/>
<line x1="215.31" y1="139.3" x2="215.31" y2="140.8" stroke="#000" stroke-width="0.7"/>
<line x1="236.75" y1="139.3" x2="236.75" y2="140.8" stroke="#000" stroke-width="0.7"/>
<line x1="258.18" y1="139.3" x2="258.18" y2="140.8" stroke="#000" stroke-width="0.7"/>
<line x1="279.61" y1="139.3" x2="279.61" y2="140.8" stroke="#000" stroke-width="0.7"/>
<line x1="301.03" y1="139.3" x2="301.03" y2="140.8" stroke="#000" stroke-width="0.7"/>
<line x1="322.46" y1="139.3" x2="322.46" y2="140.8" stroke="#000" stroke-width="0.7"/>
<line x1="343.89" y1="139.3" x2="343.89" y2="140.8" stroke="#000" stroke-width="0.7"/>
<text x="204.6" y="148.9" font-size="7.0" text-anchor="middle" fill="#000" font-weight="bold" stroke="#000" stroke-width="0.12" >0</text>
<text x="226.03" y="148.9" font-size="7.0" text-anchor="middle" fill="#000" font-weight="bold" stroke="#000" stroke-width="0.12" >100</text>
<text x="247.46" y="148.9" font-size="7.0" text-anchor="middle" fill="#000" font-weight="bold" stroke="#000" stroke-width="0.12" >200</text>
<text x="268.89" y="148.9" font-size="7.0" text-anchor="middle" fill="#000" font-weight="bold" stroke="#000" stroke-width="0.12" >300</text>
<text x="290.32" y="148.9" font-size="7.0" text-anchor="middle" fill="#000" font-weight="bold" stroke="#000" stroke-width="0.12" >400</text>
<text x="311.75" y="148.9" font-size="7.0" text-anchor="middle" fill="#000" font-weight="bold" stroke="#000" stroke-width="0.12" >500</text>
<text x="333.18" y="148.9" font-size="7.0" text-anchor="middle" fill="#000" font-weight="bold" stroke="#000" stroke-width="0.12" >600</text>
<text x="354.61" y="148.9" font-size="7.0" text-anchor="middle" fill="#000" font-weight="bold" stroke="#000" stroke-width="0.12" >700</text>
<line x1="204.5" y1="139.3" x2="201.9" y2="139.3" stroke="#000" stroke-width="0.8"/>
<line x1="204.5" y1="117.26" x2="201.9" y2="117.26" stroke="#000" stroke-width="0.8"/>
<line x1="204.5" y1="95.22" x2="201.9" y2="95.22" stroke="#000" stroke-width="0.8"/>
<line x1="204.5" y1="73.18" x2="201.9" y2="73.18" stroke="#000" stroke-width="0.8"/>
<line x1="204.5" y1="51.14" x2="201.9" y2="51.14" stroke="#000" stroke-width="0.8"/>
<line x1="204.5" y1="29.1" x2="201.9" y2="29.1" stroke="#000" stroke-width="0.8"/>
<line x1="204.5" y1="128.28" x2="203" y2="128.28" stroke="#000" stroke-width="0.7"/>
<line x1="204.5" y1="106.24" x2="203" y2="106.24" stroke="#000" stroke-width="0.7"/>
<line x1="204.5" y1="84.2" x2="203" y2="84.2" stroke="#000" stroke-width="0.7"/>
<line x1="204.5" y1="62.16" x2="203" y2="62.16" stroke="#000" stroke-width="0.7"/>
<line x1="204.5" y1="40.12" x2="203" y2="40.12" stroke="#000" stroke-width="0.7"/>
<line x1="204.5" y1="18.08" x2="203" y2="18.08" stroke="#000" stroke-width="0.7"/>
<text x="0" y="0" font-size="7.0" text-anchor="end" fill="#000" font-weight="bold" stroke="#000" stroke-width="0.12" transform="translate(200,141.68) scale(0.88,1)">-1.0</text>
<text x="0" y="0" font-size="7.0" text-anchor="end" fill="#000" font-weight="bold" stroke="#000" stroke-width="0.12" transform="translate(200,119.64) scale(0.88,1)">-0.8</text>
<text x="0" y="0" font-size="7.0" text-anchor="end" fill="#000" font-weight="bold" stroke="#000" stroke-width="0.12" transform="translate(200,97.6) scale(0.88,1)">-0.6</text>
<text x="0" y="0" font-size="7.0" text-anchor="end" fill="#000" font-weight="bold" stroke="#000" stroke-width="0.12" transform="translate(200,75.56) scale(0.88,1)">-0.4</text>
<text x="0" y="0" font-size="7.0" text-anchor="end" fill="#000" font-weight="bold" stroke="#000" stroke-width="0.12" transform="translate(200,53.52) scale(0.88,1)">-0.2</text>
<text x="0" y="0" font-size="7.0" text-anchor="end" fill="#000" font-weight="bold" stroke="#000" stroke-width="0.12" transform="translate(200,31.48) scale(0.88,1)">0.0</text>
<text x="277.5" y="156.4" font-size="7.0" text-anchor="middle" fill="#000" font-weight="bold" stroke="#000" stroke-width="0.12" >Time (s)</text>
<text x="0" y="0" font-size="6.9" text-anchor="middle" fill="#000" font-weight="bold" letter-spacing="0" stroke="#000" stroke-width="0.12" transform="translate(185.8,72.3) rotate(-90)">Potential (V vs SCE)</text>
<text x="183.5" y="16.2" font-size="21" text-anchor="start" fill="#000" font-weight="bold" stroke="#000" stroke-width="0.12" >b</text>
<line x1="308.7" y1="33.9" x2="322.8" y2="33.9" stroke="#ff2a2a" stroke-width="1.5"/>
<text x="326.3" y="36.1" font-size="6.6" text-anchor="start" fill="#000" font-weight="bold" stroke="#000" stroke-width="0.12" >PC-2</text>
<line x1="308.7" y1="42.47" x2="322.8" y2="42.47" stroke="#2bf52b" stroke-width="1.5"/>
<text x="326.3" y="44.67" font-size="6.6" text-anchor="start" fill="#000" font-weight="bold" stroke="#000" stroke-width="0.12" >APC-1</text>
<line x1="308.7" y1="51.04" x2="322.8" y2="51.04" stroke="#ff22ff" stroke-width="1.5"/>
<text x="326.3" y="53.24" font-size="6.6" text-anchor="start" fill="#000" font-weight="bold" stroke="#000" stroke-width="0.12" >APC-2</text>
<line x1="308.7" y1="59.61" x2="322.8" y2="59.61" stroke="#ffbb33" stroke-width="1.5"/>
<text x="326.3" y="61.81" font-size="6.6" text-anchor="start" fill="#000" font-weight="bold" stroke="#000" stroke-width="0.12" >APC-3</text>
<path d="M400.2,122 L400.22,121 L400.23,120.02 L400.24,119.03 L400.25,118.05 L400.26,117.07 L400.27,116.08 L400.28,115.09 L400.3,114.1 L400.32,113.09 L400.34,112.08 L400.37,111.05 L400.4,110 L400.44,108.81 L400.49,107.6 L400.55,106.37 L400.6,105.12 L400.66,103.87 L400.73,102.6 L400.8,101.33 L400.87,100.06 L400.95,98.79 L401.03,97.52 L401.11,96.25 L401.2,95 L401.29,93.74 L401.38,92.46 L401.48,91.18 L401.58,89.89 L401.69,88.6 L401.8,87.31 L401.91,86.04 L402.03,84.78 L402.14,83.54 L402.26,82.33 L402.38,81.15 L402.5,80 L402.6,79.08 L402.7,78.18 L402.8,77.3 L402.89,76.44 L402.99,75.58 L403.1,74.74 L403.2,73.91 L403.31,73.1 L403.42,72.29 L403.54,71.48 L403.67,70.69 L403.8,69.9 L403.92,69.2 L404.05,68.52 L404.18,67.84 L404.31,67.17 L404.45,66.51 L404.59,65.85 L404.74,65.2 L404.88,64.56 L405.03,63.91 L405.19,63.27 L405.34,62.64 L405.5,62 L405.65,61.4 L405.8,60.81 L405.96,60.24 L406.12,59.66 L406.28,59.09 L406.44,58.52 L406.61,57.95 L406.78,57.38 L406.95,56.8 L407.13,56.21 L407.31,55.61 L407.5,55 L407.72,54.28 L407.94,53.55 L408.17,52.8 L408.4,52.04 L408.63,51.28 L408.88,50.51 L409.13,49.74 L409.38,48.97 L409.65,48.21 L409.92,47.46 L410.21,46.72 L410.5,46 L410.79,45.32 L411.09,44.63 L411.39,43.95 L411.7,43.26 L412.02,42.58 L412.34,41.92 L412.68,41.26 L413.02,40.62 L413.37,40 L413.74,39.41 L414.11,38.84 L414.5,38.3 L414.84,37.86 L415.18,37.43 L415.53,37.02 L415.89,36.62 L416.25,36.23 L416.62,35.86 L417,35.5 L417.39,35.16 L417.78,34.84 L418.18,34.54 L418.59,34.26 L419,34 L419.38,33.79 L419.74,33.59 L420.11,33.42 L420.48,33.27 L420.85,33.13 L421.23,33.01 L421.63,32.9 L422.04,32.79 L422.48,32.69 L422.95,32.6 L423.46,32.5 L424,32.4 L425.17,32.21 L426.5,32.05 L427.95,31.9 L429.52,31.78 L431.19,31.67 L432.92,31.59 L434.7,31.52 L436.5,31.48 L438.32,31.45 L440.12,31.45 L441.89,31.46 L443.6,31.5 L445.38,31.57 L447.18,31.67 L449,31.8 L450.82,31.95 L452.65,32.13 L454.48,32.33 L456.32,32.54 L458.17,32.77 L460.01,33 L461.84,33.23 L463.68,33.47 L465.5,33.7 L467.32,33.94 L469.14,34.2 L470.96,34.49 L472.77,34.78 L474.59,35.08 L476.4,35.38 L478.22,35.68 L480.03,35.98 L481.85,36.26 L483.67,36.53 L485.48,36.78 L487.3,37 L489.16,37.2 L491.11,37.38 L493.11,37.55 L495.15,37.71 L497.18,37.86 L499.19,38 L501.14,38.13 L503,38.25 L504.75,38.37 L506.35,38.48 L507.78,38.59 L509,38.7 L509.47,38.75 L509.91,38.79 L510.31,38.84 L510.68,38.88 L511.03,38.92 L511.36,38.96 L511.68,39 L511.99,39.04 L512.3,39.08 L512.62,39.12 L512.95,39.16 L513.3,39.2 L513.3,39.2 L513.3,40.57 L513.31,41.96 L513.32,43.35 L513.33,44.74 L513.34,46.13 L513.35,47.52 L513.36,48.91 L513.36,50.28 L513.36,51.64 L513.35,52.98 L513.33,54.3 L513.3,55.6 L513.27,56.73 L513.24,57.84 L513.21,58.94 L513.17,60.02 L513.14,61.09 L513.09,62.16 L513.04,63.21 L512.98,64.27 L512.9,65.32 L512.82,66.38 L512.72,67.43 L512.6,68.5 L512.47,69.58 L512.34,70.66 L512.2,71.75 L512.06,72.85 L511.9,73.94 L511.73,75.03 L511.54,76.11 L511.34,77.18 L511.11,78.24 L510.87,79.28 L510.6,80.3 L510.3,81.3 L510.01,82.22 L509.71,83.13 L509.41,84.03 L509.09,84.93 L508.75,85.81 L508.4,86.68 L508.02,87.54 L507.61,88.37 L507.16,89.19 L506.68,89.99 L506.16,90.76 L505.6,91.5 L504.95,92.27 L504.25,93.01 L503.5,93.72 L502.72,94.42 L501.89,95.09 L501.04,95.74 L500.15,96.36 L499.24,96.97 L498.3,97.56 L497.35,98.12 L496.38,98.67 L495.4,99.2 L494.29,99.76 L493.16,100.28 L492.02,100.76 L490.85,101.2 L489.66,101.62 L488.43,102.02 L487.16,102.41 L485.84,102.79 L484.47,103.17 L483.05,103.56 L481.56,103.97 L480,104.4 L477.36,105.1 L474.5,105.8 L471.44,106.51 L468.23,107.22 L464.88,107.93 L461.44,108.65 L457.93,109.37 L454.38,110.09 L450.84,110.82 L447.32,111.54 L443.86,112.27 L440.5,113 L437.15,113.74 L433.81,114.48 L430.45,115.23 L427.09,115.98 L423.74,116.73 L420.37,117.48 L417.01,118.23 L413.65,118.99 L410.28,119.74 L406.92,120.5 L403.56,121.25 L400.2,122" fill="none" stroke="#ffee44" stroke-width="1.1" stroke-linejoin="round" stroke-linecap="round" />
<path d="M400.2,100.5 L400.21,99.62 L400.21,98.75 L400.21,97.87 L400.21,96.99 L400.21,96.11 L400.21,95.23 L400.21,94.36 L400.22,93.48 L400.23,92.61 L400.25,91.73 L400.27,90.87 L400.3,90 L400.33,89.15 L400.37,88.3 L400.41,87.44 L400.46,86.58 L400.5,85.72 L400.56,84.87 L400.61,84.02 L400.68,83.19 L400.75,82.36 L400.82,81.56 L400.91,80.77 L401,80 L401.08,79.37 L401.17,78.75 L401.27,78.14 L401.37,77.54 L401.48,76.95 L401.58,76.36 L401.7,75.79 L401.81,75.22 L401.93,74.66 L402.05,74.1 L402.18,73.55 L402.3,73 L402.41,72.52 L402.52,72.04 L402.63,71.57 L402.75,71.11 L402.86,70.65 L402.98,70.2 L403.1,69.75 L403.23,69.3 L403.36,68.85 L403.5,68.4 L403.65,67.95 L403.8,67.5 L403.97,67.03 L404.14,66.57 L404.32,66.11 L404.5,65.65 L404.69,65.19 L404.89,64.73 L405.09,64.27 L405.3,63.81 L405.51,63.34 L405.74,62.87 L405.96,62.39 L406.2,61.9 L406.48,61.3 L406.76,60.67 L407.04,60.02 L407.34,59.34 L407.64,58.66 L407.95,57.99 L408.27,57.33 L408.61,56.7 L408.98,56.09 L409.36,55.54 L409.77,55.04 L410.2,54.6 L410.58,54.28 L410.96,53.99 L411.35,53.74 L411.74,53.52 L412.15,53.32 L412.58,53.15 L413.03,52.99 L413.51,52.84 L414.02,52.7 L414.57,52.57 L415.16,52.44 L415.8,52.3 L417.37,52.03 L419.23,51.82 L421.31,51.67 L423.59,51.55 L426.02,51.48 L428.56,51.45 L431.16,51.44 L433.78,51.45 L436.38,51.48 L438.91,51.52 L441.33,51.56 L443.6,51.6 L445.52,51.64 L447.4,51.71 L449.26,51.79 L451.1,51.89 L452.91,52 L454.72,52.12 L456.51,52.25 L458.3,52.38 L460.09,52.51 L461.88,52.64 L463.69,52.78 L465.5,52.9 L467.32,53.02 L469.14,53.16 L470.95,53.29 L472.77,53.43 L474.59,53.58 L476.41,53.72 L478.22,53.86 L480.04,54 L481.85,54.13 L483.67,54.26 L485.48,54.39 L487.3,54.5 L489.16,54.61 L491.11,54.71 L493.12,54.82 L495.15,54.92 L497.19,55.01 L499.19,55.1 L501.14,55.19 L503,55.27 L504.75,55.34 L506.35,55.4 L507.78,55.46 L509,55.5 L509.47,55.52 L509.91,55.53 L510.31,55.54 L510.68,55.55 L511.03,55.56 L511.36,55.56 L511.68,55.57 L511.99,55.57 L512.3,55.58 L512.62,55.59 L512.95,55.59 L513.3,55.6 L513.3,55.6 L513.27,56.69 L513.25,57.79 L513.24,58.91 L513.23,60.03 L513.21,61.16 L513.2,62.27 L513.18,63.38 L513.15,64.46 L513.11,65.53 L513.06,66.56 L512.99,67.55 L512.9,68.5 L512.82,69.21 L512.74,69.9 L512.65,70.57 L512.55,71.23 L512.45,71.88 L512.33,72.51 L512.22,73.13 L512.09,73.73 L511.96,74.32 L511.81,74.9 L511.66,75.46 L511.5,76 L511.37,76.43 L511.25,76.84 L511.12,77.25 L511,77.64 L510.87,78.03 L510.73,78.41 L510.58,78.78 L510.41,79.14 L510.22,79.49 L510.01,79.83 L509.77,80.17 L509.5,80.5 L509.13,80.9 L508.72,81.28 L508.28,81.64 L507.8,82 L507.3,82.33 L506.76,82.66 L506.2,82.98 L505.61,83.29 L504.99,83.6 L504.35,83.9 L503.69,84.2 L503,84.5 L501.91,84.94 L500.76,85.36 L499.55,85.76 L498.29,86.15 L496.96,86.52 L495.57,86.88 L494.12,87.23 L492.61,87.58 L491.05,87.93 L489.42,88.28 L487.74,88.64 L486,89 L482.98,89.6 L479.67,90.2 L476.13,90.81 L472.38,91.41 L468.48,92.01 L464.47,92.61 L460.4,93.2 L456.29,93.77 L452.21,94.33 L448.19,94.87 L444.27,95.4 L440.5,95.9 L437.06,96.35 L433.65,96.77 L430.26,97.18 L426.89,97.57 L423.54,97.95 L420.2,98.31 L416.87,98.68 L413.55,99.03 L410.22,99.39 L406.89,99.75 L403.55,100.12 L400.2,100.5" fill="none" stroke="#ff3040" stroke-width="1.1" stroke-linejoin="round" stroke-linecap="round" />
<path d="M400.3,85.1 L400.3,84.51 L400.29,83.92 L400.28,83.32 L400.27,82.73 L400.26,82.14 L400.26,81.55 L400.25,80.95 L400.25,80.36 L400.25,79.77 L400.26,79.18 L400.28,78.59 L400.3,78 L400.33,77.41 L400.35,76.8 L400.37,76.18 L400.4,75.56 L400.43,74.94 L400.47,74.33 L400.52,73.72 L400.58,73.13 L400.65,72.56 L400.75,72.01 L400.86,71.49 L401,71 L401.12,70.65 L401.25,70.31 L401.38,69.98 L401.53,69.66 L401.68,69.35 L401.84,69.06 L402.02,68.77 L402.19,68.5 L402.38,68.23 L402.58,67.98 L402.79,67.73 L403,67.5 L403.2,67.29 L403.41,67.09 L403.61,66.91 L403.82,66.73 L404.04,66.56 L404.26,66.4 L404.5,66.25 L404.76,66.11 L405.03,65.97 L405.33,65.84 L405.65,65.72 L406,65.6 L406.78,65.39 L407.67,65.23 L408.65,65.11 L409.72,65.03 L410.87,64.97 L412.08,64.93 L413.34,64.91 L414.64,64.9 L415.97,64.89 L417.31,64.87 L418.66,64.84 L420,64.8 L421.82,64.73 L423.7,64.66 L425.64,64.59 L427.64,64.52 L429.69,64.46 L431.79,64.4 L433.92,64.35 L436.09,64.3 L438.29,64.26 L440.51,64.23 L442.75,64.21 L445,64.2 L447.71,64.2 L450.5,64.23 L453.36,64.26 L456.26,64.32 L459.21,64.38 L462.19,64.45 L465.18,64.52 L468.18,64.6 L471.17,64.68 L474.15,64.76 L477.1,64.83 L480,64.9 L482.8,64.96 L485.6,65.03 L488.38,65.09 L491.16,65.16 L493.93,65.23 L496.7,65.29 L499.47,65.36 L502.23,65.43 L504.99,65.5 L507.76,65.57 L510.53,65.63 L513.3,65.7 L513.3,65.7 L513.28,66.23 L513.27,66.77 L513.26,67.31 L513.26,67.86 L513.26,68.4 L513.25,68.95 L513.24,69.49 L513.22,70.02 L513.19,70.54 L513.15,71.04 L513.08,71.53 L513,72 L512.92,72.38 L512.85,72.75 L512.78,73.12 L512.7,73.48 L512.61,73.83 L512.52,74.18 L512.41,74.51 L512.28,74.84 L512.12,75.15 L511.95,75.45 L511.74,75.73 L511.5,76 L511.15,76.32 L510.77,76.6 L510.34,76.86 L509.89,77.1 L509.39,77.32 L508.86,77.52 L508.3,77.7 L507.7,77.88 L507.07,78.04 L506.41,78.2 L505.72,78.35 L505,78.5 L503.51,78.75 L501.84,78.94 L500.02,79.08 L498.05,79.18 L495.97,79.24 L493.8,79.28 L491.55,79.3 L489.26,79.31 L486.93,79.33 L484.6,79.36 L482.28,79.42 L480,79.5 L477.27,79.62 L474.44,79.75 L471.52,79.89 L468.55,80.03 L465.53,80.17 L462.5,80.32 L459.46,80.47 L456.45,80.63 L453.47,80.79 L450.56,80.96 L447.73,81.13 L445,81.3 L442.76,81.45 L440.55,81.61 L438.38,81.77 L436.24,81.93 L434.13,82.1 L432.05,82.27 L429.99,82.44 L427.96,82.62 L425.94,82.79 L423.95,82.96 L421.97,83.13 L420,83.3 L418.28,83.45 L416.58,83.6 L414.91,83.75 L413.26,83.9 L411.62,84.05 L410,84.2 L408.39,84.35 L406.78,84.5 L405.17,84.65 L403.56,84.8 L401.93,84.95 L400.3,85.1" fill="none" stroke="#5598d8" stroke-width="1.1" stroke-linejoin="round" stroke-linecap="round" />
<path d="M400.8,80 L400.8,79.23 L400.78,78.42 L400.75,77.59 L400.71,76.74 L400.66,75.9 L400.63,75.06 L400.61,74.26 L400.61,73.48 L400.65,72.76 L400.72,72.1 L400.83,71.51 L401,71 L401.11,70.75 L401.23,70.52 L401.36,70.32 L401.5,70.12 L401.64,69.95 L401.8,69.78 L401.96,69.63 L402.14,69.49 L402.33,69.36 L402.54,69.23 L402.76,69.11 L403,69 L403.4,68.84 L403.83,68.73 L404.29,68.64 L404.79,68.58 L405.31,68.55 L405.87,68.53 L406.46,68.53 L407.09,68.53 L407.76,68.53 L408.47,68.53 L409.21,68.52 L410,68.5 L411.98,68.44 L414.29,68.39 L416.87,68.35 L419.68,68.32 L422.69,68.31 L425.83,68.3 L429.06,68.29 L432.34,68.29 L435.62,68.29 L438.86,68.3 L442,68.3 L445,68.3 L447.92,68.3 L450.84,68.31 L453.77,68.31 L456.7,68.33 L459.63,68.34 L462.55,68.36 L465.48,68.37 L468.4,68.4 L471.31,68.42 L474.22,68.44 L477.11,68.47 L480,68.5 L482.8,68.53 L485.6,68.57 L488.38,68.6 L491.16,68.64 L493.93,68.69 L496.7,68.73 L499.47,68.78 L502.23,68.82 L504.99,68.87 L507.76,68.91 L510.53,68.96 L513.3,69 L513.3,69 L513.29,69.42 L513.3,69.86 L513.33,70.31 L513.36,70.76 L513.39,71.21 L513.42,71.66 L513.43,72.1 L513.42,72.52 L513.38,72.93 L513.3,73.31 L513.18,73.67 L513,74 L512.77,74.31 L512.5,74.6 L512.2,74.86 L511.86,75.1 L511.49,75.32 L511.09,75.52 L510.66,75.7 L510.19,75.88 L509.69,76.04 L509.16,76.2 L508.59,76.35 L508,76.5 L506.49,76.79 L504.71,76.99 L502.71,77.11 L500.5,77.17 L498.14,77.18 L495.65,77.16 L493.06,77.12 L490.42,77.06 L487.76,77.01 L485.12,76.97 L482.52,76.96 L480,77 L477.2,77.07 L474.32,77.15 L471.39,77.23 L468.4,77.31 L465.39,77.4 L462.38,77.49 L459.36,77.59 L456.38,77.69 L453.43,77.79 L450.54,77.89 L447.72,77.99 L445,78.1 L442.76,78.19 L440.55,78.29 L438.38,78.39 L436.23,78.5 L434.12,78.6 L432.03,78.71 L429.97,78.82 L427.93,78.92 L425.92,79.02 L423.93,79.12 L421.95,79.21 L420,79.3 L418.31,79.37 L416.65,79.44 L415.02,79.5 L413.41,79.56 L411.82,79.61 L410.24,79.67 L408.67,79.72 L407.11,79.78 L405.54,79.83 L403.97,79.89 L402.39,79.94 L400.8,80" fill="none" stroke="#5fea5f" stroke-width="1.1" stroke-linejoin="round" stroke-linecap="round" />
<path d="M401,76.5 L401.01,76.11 L400.99,75.71 L400.96,75.28 L400.93,74.86 L400.9,74.43 L400.87,74.01 L400.86,73.6 L400.86,73.21 L400.89,72.85 L400.96,72.53 L401.06,72.24 L401.2,72 L401.34,71.84 L401.49,71.72 L401.65,71.62 L401.83,71.54 L402.03,71.47 L402.24,71.43 L402.47,71.39 L402.73,71.35 L403,71.32 L403.31,71.29 L403.64,71.25 L404,71.2 L405.74,71.02 L408.08,70.88 L410.94,70.78 L414.22,70.71 L417.83,70.67 L421.69,70.65 L425.71,70.65 L429.79,70.66 L433.85,70.67 L437.8,70.69 L441.54,70.7 L445,70.7 L448.02,70.7 L451,70.71 L453.96,70.72 L456.9,70.75 L459.82,70.77 L462.73,70.8 L465.62,70.84 L468.5,70.87 L471.38,70.91 L474.25,70.94 L477.12,70.97 L480,71 L482.8,71.02 L485.6,71.05 L488.38,71.07 L491.16,71.1 L493.93,71.12 L496.7,71.15 L499.47,71.17 L502.23,71.2 L504.99,71.22 L507.76,71.25 L510.53,71.27 L513.3,71.3 L513.3,71.3 L513.29,71.53 L513.3,71.76 L513.32,72 L513.35,72.24 L513.38,72.48 L513.41,72.72 L513.41,72.95 L513.4,73.18 L513.36,73.4 L513.29,73.61 L513.17,73.81 L513,74 L511.99,74.54 L510.39,74.91 L508.26,75.14 L505.71,75.26 L502.82,75.29 L499.66,75.24 L496.33,75.15 L492.91,75.04 L489.48,74.92 L486.13,74.83 L482.94,74.78 L480,74.8 L477.1,74.86 L474.16,74.93 L471.18,74.99 L468.19,75.05 L465.19,75.11 L462.2,75.17 L459.22,75.22 L456.27,75.28 L453.36,75.34 L450.51,75.39 L447.71,75.45 L445,75.5 L442.76,75.54 L440.55,75.59 L438.37,75.63 L436.23,75.67 L434.11,75.71 L432.02,75.75 L429.96,75.79 L427.92,75.83 L425.91,75.87 L423.92,75.91 L421.95,75.96 L420,76 L418.33,76.04 L416.68,76.08 L415.07,76.12 L413.47,76.16 L411.9,76.2 L410.34,76.25 L408.78,76.29 L407.24,76.33 L405.69,76.37 L404.14,76.42 L402.58,76.46 L401,76.5" fill="none" stroke="#ff22ff" stroke-width="1.1" stroke-linejoin="round" stroke-linecap="round" />
<path d="M401.2,74.6 L401.21,74.46 L401.21,74.32 L401.21,74.17 L401.21,74.02 L401.2,73.88 L401.2,73.73 L401.2,73.59 L401.21,73.45 L401.24,73.32 L401.27,73.2 L401.33,73.09 L401.4,73 L401.51,72.9 L401.64,72.83 L401.79,72.77 L401.96,72.72 L402.14,72.7 L402.34,72.68 L402.56,72.66 L402.8,72.65 L403.07,72.65 L403.35,72.64 L403.66,72.62 L404,72.6 L405.67,72.51 L407.87,72.44 L410.56,72.39 L413.65,72.36 L417.08,72.34 L420.78,72.34 L424.7,72.35 L428.75,72.36 L432.87,72.38 L437,72.39 L441.06,72.4 L445,72.4 L450.08,72.4 L455.38,72.4 L460.86,72.41 L466.48,72.43 L472.23,72.45 L478.07,72.47 L483.96,72.49 L489.89,72.51 L495.82,72.54 L501.72,72.56 L507.55,72.58 L513.3,72.6 L513.3,72.6 L513.28,72.7 L513.27,72.8 L513.27,72.91 L513.28,73.01 L513.28,73.11 L513.28,73.22 L513.27,73.32 L513.26,73.42 L513.22,73.52 L513.17,73.62 L513.1,73.71 L513,73.8 L511.34,74.35 L508.2,74.71 L503.8,74.91 L498.37,74.98 L492.13,74.94 L485.31,74.82 L478.15,74.65 L470.86,74.46 L463.67,74.27 L456.81,74.11 L450.51,74.01 L445,74 L441.01,74.04 L437.14,74.08 L433.38,74.12 L429.69,74.17 L426.07,74.22 L422.5,74.28 L418.96,74.33 L415.44,74.39 L411.93,74.44 L408.39,74.5 L404.82,74.55 L401.2,74.6" fill="none" stroke="#ff9a5a" stroke-width="1.1" stroke-linejoin="round" stroke-linecap="round" />
<rect x="388.7" y="19.2" width="148.2" height="120" fill="none" stroke="#1a1a1a" stroke-width="1.2"/>
<line x1="399.6" y1="139.2" x2="399.6" y2="141.8" stroke="#000" stroke-width="0.8"/>
<line x1="422.5" y1="139.2" x2="422.5" y2="141.8" stroke="#000" stroke-width="0.8"/>
<line x1="445.4" y1="139.2" x2="445.4" y2="141.8" stroke="#000" stroke-width="0.8"/>
<line x1="468.3" y1="139.2" x2="468.3" y2="141.8" stroke="#000" stroke-width="0.8"/>
<line x1="491.2" y1="139.2" x2="491.2" y2="141.8" stroke="#000" stroke-width="0.8"/>
<line x1="514.1" y1="139.2" x2="514.1" y2="141.8" stroke="#000" stroke-width="0.8"/>
<line x1="537" y1="139.2" x2="537" y2="141.8" stroke="#000" stroke-width="0.8"/>
<line x1="411.05" y1="139.2" x2="411.05" y2="140.7" stroke="#000" stroke-width="0.7"/>
<line x1="433.95" y1="139.2" x2="433.95" y2="140.7" stroke="#000" stroke-width="0.7"/>
<line x1="456.85" y1="139.2" x2="456.85" y2="140.7" stroke="#000" stroke-width="0.7"/>
<line x1="479.75" y1="139.2" x2="479.75" y2="140.7" stroke="#000" stroke-width="0.7"/>
<line x1="502.65" y1="139.2" x2="502.65" y2="140.7" stroke="#000" stroke-width="0.7"/>
<line x1="525.55" y1="139.2" x2="525.55" y2="140.7" stroke="#000" stroke-width="0.7"/>
<text x="399.6" y="148" font-size="7.0" text-anchor="middle" fill="#000" font-weight="bold" stroke="#000" stroke-width="0.12" >-1.0</text>
<text x="422.5" y="148" font-size="7.0" text-anchor="middle" fill="#000" font-weight="bold" stroke="#000" stroke-width="0.12" >-0.8</text>
<text x="445.4" y="148" font-size="7.0" text-anchor="middle" fill="#000" font-weight="bold" stroke="#000" stroke-width="0.12" >-0.6</text>
<text x="468.3" y="148" font-size="7.0" text-anchor="middle" fill="#000" font-weight="bold" stroke="#000" stroke-width="0.12" >-0.4</text>
<text x="491.2" y="148" font-size="7.0" text-anchor="middle" fill="#000" font-weight="bold" stroke="#000" stroke-width="0.12" >-0.2</text>
<text x="514.1" y="148" font-size="7.0" text-anchor="middle" fill="#000" font-weight="bold" stroke="#000" stroke-width="0.12" >0.0</text>
<text x="537" y="148" font-size="7.0" text-anchor="middle" fill="#000" font-weight="bold" stroke="#000" stroke-width="0.12" >0.2</text>
<line x1="388.7" y1="19.2" x2="386.1" y2="19.2" stroke="#000" stroke-width="0.8"/>
<line x1="388.7" y1="32.53" x2="386.1" y2="32.53" stroke="#000" stroke-width="0.8"/>
<line x1="388.7" y1="45.87" x2="386.1" y2="45.87" stroke="#000" stroke-width="0.8"/>
<line x1="388.7" y1="59.2" x2="386.1" y2="59.2" stroke="#000" stroke-width="0.8"/>
<line x1="388.7" y1="72.53" x2="386.1" y2="72.53" stroke="#000" stroke-width="0.8"/>
<line x1="388.7" y1="85.86" x2="386.1" y2="85.86" stroke="#000" stroke-width="0.8"/>
<line x1="388.7" y1="99.2" x2="386.1" y2="99.2" stroke="#000" stroke-width="0.8"/>
<line x1="388.7" y1="112.53" x2="386.1" y2="112.53" stroke="#000" stroke-width="0.8"/>
<line x1="388.7" y1="125.86" x2="386.1" y2="125.86" stroke="#000" stroke-width="0.8"/>
<line x1="388.7" y1="25.87" x2="387.2" y2="25.87" stroke="#000" stroke-width="0.7"/>
<line x1="388.7" y1="39.2" x2="387.2" y2="39.2" stroke="#000" stroke-width="0.7"/>
<line x1="388.7" y1="52.53" x2="387.2" y2="52.53" stroke="#000" stroke-width="0.7"/>
<line x1="388.7" y1="65.87" x2="387.2" y2="65.87" stroke="#000" stroke-width="0.7"/>
<line x1="388.7" y1="79.2" x2="387.2" y2="79.2" stroke="#000" stroke-width="0.7"/>
<line x1="388.7" y1="92.53" x2="387.2" y2="92.53" stroke="#000" stroke-width="0.7"/>
<line x1="388.7" y1="105.86" x2="387.2" y2="105.86" stroke="#000" stroke-width="0.7"/>
<line x1="388.7" y1="119.2" x2="387.2" y2="119.2" stroke="#000" stroke-width="0.7"/>
<line x1="388.7" y1="132.53" x2="387.2" y2="132.53" stroke="#000" stroke-width="0.7"/>
<text x="0" y="0" font-size="7.0" text-anchor="end" fill="#000" font-weight="bold" stroke="#000" stroke-width="0.12" transform="translate(384.2,21.58) scale(0.88,1)">40</text>
<text x="0" y="0" font-size="7.0" text-anchor="end" fill="#000" font-weight="bold" stroke="#000" stroke-width="0.12" transform="translate(384.2,34.91) scale(0.88,1)">30</text>
<text x="0" y="0" font-size="7.0" text-anchor="end" fill="#000" font-weight="bold" stroke="#000" stroke-width="0.12" transform="translate(384.2,48.25) scale(0.88,1)">20</text>
<text x="0" y="0" font-size="7.0" text-anchor="end" fill="#000" font-weight="bold" stroke="#000" stroke-width="0.12" transform="translate(384.2,61.58) scale(0.88,1)">10</text>
<text x="0" y="0" font-size="7.0" text-anchor="end" fill="#000" font-weight="bold" stroke="#000" stroke-width="0.12" transform="translate(384.2,74.91) scale(0.88,1)">0</text>
<text x="0" y="0" font-size="7.0" text-anchor="end" fill="#000" font-weight="bold" stroke="#000" stroke-width="0.12" transform="translate(384.2,88.24) scale(0.88,1)">-10</text>
<text x="0" y="0" font-size="7.0" text-anchor="end" fill="#000" font-weight="bold" stroke="#000" stroke-width="0.12" transform="translate(384.2,101.58) scale(0.88,1)">-20</text>
<text x="0" y="0" font-size="7.0" text-anchor="end" fill="#000" font-weight="bold" stroke="#000" stroke-width="0.12" transform="translate(384.2,114.91) scale(0.88,1)">-30</text>
<text x="0" y="0" font-size="7.0" text-anchor="end" fill="#000" font-weight="bold" stroke="#000" stroke-width="0.12" transform="translate(384.2,128.24) scale(0.88,1)">-40</text>
<text x="459.8" y="156.2" font-size="7.0" text-anchor="middle" fill="#000" font-weight="bold" stroke="#000" stroke-width="0.12" >Potential (V vs SCE)</text>
<text x="0" y="0" font-size="7.0" text-anchor="middle" fill="#000" font-weight="bold" letter-spacing="0" stroke="#000" stroke-width="0.12" transform="translate(373,79) rotate(-90)">Current density (A g<tspan dy="-3.15" font-size="5.04">-1</tspan>)</text>
<text x="362.2" y="16" font-size="21" text-anchor="start" fill="#000" font-weight="bold" stroke="#000" stroke-width="0.12" >c</text>
<line x1="446.9" y1="115.4" x2="459.4" y2="115.4" stroke="#ff9a5a" stroke-width="1.5"/>
<text x="463.1" y="117.6" font-size="6.6" text-anchor="start" fill="#000" font-weight="bold" stroke="#000" stroke-width="0.12" >2 mv s<tspan dy="-2.77" font-size="3.83">-1</tspan></text>
<line x1="492.7" y1="115.4" x2="505.2" y2="115.4" stroke="#ff22ff" stroke-width="1.5"/>
<text x="508.9" y="117.6" font-size="6.6" text-anchor="start" fill="#000" font-weight="bold" stroke="#000" stroke-width="0.12" >5 mv s<tspan dy="-2.77" font-size="3.83">-1</tspan></text>
<line x1="446.9" y1="123.8" x2="459.4" y2="123.8" stroke="#5fea5f" stroke-width="1.5"/>
<text x="463.1" y="126" font-size="6.6" text-anchor="start" fill="#000" font-weight="bold" stroke="#000" stroke-width="0.12" >10 mv s<tspan dy="-2.77" font-size="3.83">-1</tspan></text>
<line x1="492.7" y1="123.8" x2="505.2" y2="123.8" stroke="#5598d8" stroke-width="1.5"/>
<text x="508.9" y="126" font-size="6.6" text-anchor="start" fill="#000" font-weight="bold" stroke="#000" stroke-width="0.12" >20 mv s<tspan dy="-2.77" font-size="3.83">-1</tspan></text>
<line x1="446.9" y1="132.4" x2="459.4" y2="132.4" stroke="#ff3040" stroke-width="1.5"/>
<text x="463.1" y="134.6" font-size="6.6" text-anchor="start" fill="#000" font-weight="bold" stroke="#000" stroke-width="0.12" >50 mv s<tspan dy="-2.77" font-size="3.83">-1</tspan></text>
<line x1="492.7" y1="132.4" x2="505.2" y2="132.4" stroke="#ffee44" stroke-width="1.5"/>
<text x="508.9" y="134.6" font-size="6.6" text-anchor="start" fill="#000" font-weight="bold" stroke="#000" stroke-width="0.12" >100 mv s<tspan dy="-2.77" font-size="3.83">-1</tspan></text>
<path d="M27.4,292.3 L30.79,288.8 L33.72,285.3 L36.51,281.8 L39.2,278.3 L41.82,274.8 L44.4,271.3 L46.92,267.8 L49.42,264.3 L51.88,260.8 L54.32,257.3 L56.73,253.8 L59.11,250.3 L61.48,246.8 L63.83,243.3 L66.17,239.8 L68.49,236.3 L70.79,232.8 L73.08,229.3 L75.36,225.8 L77.63,222.3 L79.88,218.8 L82.12,215.3 L84.36,211.8 L86.58,208.3 L88.8,204.8 L91,201.3 L93.2,197.8 L95.39,194.3 L97.57,190.8 L99.75,187.3 L100.18,190.8 L100.97,194.3 L102,197.8 L103.22,201.3 L104.61,204.8 L106.13,208.3 L107.8,211.8 L109.58,215.3 L111.48,218.8 L113.49,222.3 L115.61,225.8 L117.82,229.3 L120.12,232.8 L122.52,236.3 L125,239.8 L127.57,243.3 L130.22,246.8 L132.94,250.3 L135.75,253.8 L138.63,257.3 L141.58,260.8 L144.61,264.3 L147.7,267.8 L150.86,271.3 L154.09,274.8 L157.38,278.3 L160.74,281.8 L164.16,285.3 L167.64,288.8 L171.18,292.3" fill="none" stroke="#ffe84d" stroke-width="1.1" stroke-linejoin="round" stroke-linecap="round" />
<path d="M27.4,292.3 L29.05,288.8 L30.48,285.3 L31.84,281.8 L33.15,278.3 L34.43,274.8 L35.68,271.3 L36.92,267.8 L38.13,264.3 L39.33,260.8 L40.52,257.3 L41.69,253.8 L42.86,250.3 L44.01,246.8 L45.16,243.3 L46.3,239.8 L47.43,236.3 L48.55,232.8 L49.67,229.3 L50.78,225.8 L51.88,222.3 L52.98,218.8 L54.07,215.3 L55.16,211.8 L56.25,208.3 L57.33,204.8 L58.4,201.3 L59.47,197.8 L60.54,194.3 L61.6,190.8 L62.66,187.3 L62.88,190.8 L63.27,194.3 L63.77,197.8 L64.37,201.3 L65.05,204.8 L65.8,208.3 L66.61,211.8 L67.49,215.3 L68.42,218.8 L69.4,222.3 L70.44,225.8 L71.53,229.3 L72.66,232.8 L73.83,236.3 L75.05,239.8 L76.31,243.3 L77.61,246.8 L78.95,250.3 L80.32,253.8 L81.73,257.3 L83.18,260.8 L84.66,264.3 L86.18,267.8 L87.73,271.3 L89.31,274.8 L90.93,278.3 L92.58,281.8 L94.25,285.3 L95.96,288.8 L97.7,292.3" fill="none" stroke="#ff4040" stroke-width="1.1" stroke-linejoin="round" stroke-linecap="round" />
<path d="M27.4,292.3 L28.02,288.8 L28.56,285.3 L29.08,281.8 L29.57,278.3 L30.05,274.8 L30.53,271.3 L30.99,267.8 L31.45,264.3 L31.9,260.8 L32.35,257.3 L32.79,253.8 L33.23,250.3 L33.67,246.8 L34.1,243.3 L34.53,239.8 L34.96,236.3 L35.38,232.8 L35.8,229.3 L36.22,225.8 L36.64,222.3 L37.05,218.8 L37.47,215.3 L37.88,211.8 L38.29,208.3 L38.69,204.8 L39.1,201.3 L39.5,197.8 L39.91,194.3 L40.31,190.8 L40.71,187.3 L40.79,190.8 L40.94,194.3 L41.14,197.8 L41.37,201.3 L41.63,204.8 L41.92,208.3 L42.23,211.8 L42.57,215.3 L42.93,218.8 L43.31,222.3 L43.71,225.8 L44.13,229.3 L44.57,232.8 L45.02,236.3 L45.49,239.8 L45.98,243.3 L46.48,246.8 L47,250.3 L47.53,253.8 L48.08,257.3 L48.64,260.8 L49.21,264.3 L49.8,267.8 L50.39,271.3 L51.01,274.8 L51.63,278.3 L52.27,281.8 L52.91,285.3 L53.57,288.8 L54.25,292.3" fill="none" stroke="#5a9ad8" stroke-width="1.1" stroke-linejoin="round" stroke-linecap="round" />
<path d="M27.4,292.3 L27.69,288.8 L27.94,285.3 L28.17,281.8 L28.4,278.3 L28.62,274.8 L28.84,271.3 L29.06,267.8 L29.27,264.3 L29.48,260.8 L29.69,257.3 L29.89,253.8 L30.09,250.3 L30.29,246.8 L30.49,243.3 L30.69,239.8 L30.89,236.3 L31.08,232.8 L31.28,229.3 L31.47,225.8 L31.66,222.3 L31.86,218.8 L32.05,215.3 L32.24,211.8 L32.42,208.3 L32.61,204.8 L32.8,201.3 L32.99,197.8 L33.17,194.3 L33.36,190.8 L33.54,187.3 L33.58,190.8 L33.66,194.3 L33.76,197.8 L33.87,201.3 L34.01,204.8 L34.15,208.3 L34.31,211.8 L34.48,215.3 L34.66,218.8 L34.86,222.3 L35.06,225.8 L35.27,229.3 L35.49,232.8 L35.72,236.3 L35.96,239.8 L36.2,243.3 L36.45,246.8 L36.71,250.3 L36.98,253.8 L37.26,257.3 L37.54,260.8 L37.83,264.3 L38.12,267.8 L38.43,271.3 L38.73,274.8 L39.05,278.3 L39.37,281.8 L39.7,285.3 L40.03,288.8 L40.37,292.3" fill="none" stroke="#55ea55" stroke-width="1.1" stroke-linejoin="round" stroke-linecap="round" />
<path d="M27.4,292.3 L27.54,288.8 L27.66,285.3 L27.78,281.8 L27.89,278.3 L28,274.8 L28.11,271.3 L28.22,267.8 L28.32,264.3 L28.42,260.8 L28.53,257.3 L28.63,253.8 L28.73,250.3 L28.83,246.8 L28.92,243.3 L29.02,239.8 L29.12,236.3 L29.21,232.8 L29.31,229.3 L29.41,225.8 L29.5,222.3 L29.59,218.8 L29.69,215.3 L29.78,211.8 L29.88,208.3 L29.97,204.8 L30.06,201.3 L30.15,197.8 L30.24,194.3 L30.33,190.8 L30.43,187.3 L30.45,190.8 L30.48,194.3 L30.53,197.8 L30.59,201.3 L30.65,204.8 L30.72,208.3 L30.8,211.8 L30.89,215.3 L30.98,218.8 L31.07,222.3 L31.17,225.8 L31.27,229.3 L31.38,232.8 L31.49,236.3 L31.61,239.8 L31.73,243.3 L31.85,246.8 L31.98,250.3 L32.11,253.8 L32.25,257.3 L32.38,260.8 L32.53,264.3 L32.67,267.8 L32.82,271.3 L32.97,274.8 L33.12,278.3 L33.28,281.8 L33.44,285.3 L33.6,288.8 L33.77,292.3" fill="none" stroke="#ff40ff" stroke-width="1.1" stroke-linejoin="round" stroke-linecap="round" />
<path d="M27.4,292.3 L27.45,288.87 L27.49,285.44 L27.53,282.01 L27.57,278.58 L27.6,275.15 L27.64,271.72 L27.68,268.29 L27.71,264.86 L27.75,261.43 L27.78,258 L27.81,254.57 L27.85,251.14 L27.88,247.71 L27.92,244.28 L27.95,240.85 L27.98,237.42 L28.01,233.99 L28.05,230.56 L28.08,227.13 L28.11,223.7 L28.14,220.27 L28.17,216.84 L28.21,213.41 L28.24,209.98 L28.27,206.55 L28.3,203.12 L28.33,199.69 L28.36,196.26 L28.39,192.83 L28.42,189.4 L28.43,192.83 L28.44,196.26 L28.46,199.69 L28.47,203.12 L28.49,206.55 L28.52,209.98 L28.54,213.41 L28.56,216.84 L28.59,220.27 L28.62,223.7 L28.65,227.13 L28.68,230.56 L28.72,233.99 L28.75,237.42 L28.79,240.85 L28.82,244.28 L28.86,247.71 L28.9,251.14 L28.94,254.57 L28.98,258 L29.02,261.43 L29.07,264.86 L29.11,268.29 L29.16,271.72 L29.2,275.15 L29.25,278.58 L29.3,282.01 L29.35,285.44 L29.4,288.87 L29.45,292.3" fill="none" stroke="#ffa060" stroke-width="1.1" stroke-linejoin="round" stroke-linecap="round" />
<rect x="27.5" y="172.5" width="148.1" height="119.8" fill="none" stroke="#1a1a1a" stroke-width="1.2"/>
<line x1="27.4" y1="292.3" x2="27.4" y2="294.9" stroke="#000" stroke-width="0.8"/>
<line x1="72.9" y1="292.3" x2="72.9" y2="294.9" stroke="#000" stroke-width="0.8"/>
<line x1="118.4" y1="292.3" x2="118.4" y2="294.9" stroke="#000" stroke-width="0.8"/>
<line x1="163.9" y1="292.3" x2="163.9" y2="294.9" stroke="#000" stroke-width="0.8"/>
<line x1="50.15" y1="292.3" x2="50.15" y2="293.8" stroke="#000" stroke-width="0.7"/>
<line x1="95.65" y1="292.3" x2="95.65" y2="293.8" stroke="#000" stroke-width="0.7"/>
<line x1="141.15" y1="292.3" x2="141.15" y2="293.8" stroke="#000" stroke-width="0.7"/>
<text x="27.4" y="301.5" font-size="7.0" text-anchor="middle" fill="#000" font-weight="bold" stroke="#000" stroke-width="0.12" >0</text>
<text x="72.9" y="301.5" font-size="7.0" text-anchor="middle" fill="#000" font-weight="bold" stroke="#000" stroke-width="0.12" >200</text>
<text x="118.4" y="301.5" font-size="7.0" text-anchor="middle" fill="#000" font-weight="bold" stroke="#000" stroke-width="0.12" >400</text>
<text x="163.9" y="301.5" font-size="7.0" text-anchor="middle" fill="#000" font-weight="bold" stroke="#000" stroke-width="0.12" >600</text>
<line x1="27.5" y1="292.3" x2="24.9" y2="292.3" stroke="#000" stroke-width="0.8"/>
<line x1="27.5" y1="271.3" x2="24.9" y2="271.3" stroke="#000" stroke-width="0.8"/>
<line x1="27.5" y1="250.3" x2="24.9" y2="250.3" stroke="#000" stroke-width="0.8"/>
<line x1="27.5" y1="229.3" x2="24.9" y2="229.3" stroke="#000" stroke-width="0.8"/>
<line x1="27.5" y1="208.3" x2="24.9" y2="208.3" stroke="#000" stroke-width="0.8"/>
<line x1="27.5" y1="187.3" x2="24.9" y2="187.3" stroke="#000" stroke-width="0.8"/>
<line x1="27.5" y1="281.8" x2="26" y2="281.8" stroke="#000" stroke-width="0.7"/>
<line x1="27.5" y1="260.8" x2="26" y2="260.8" stroke="#000" stroke-width="0.7"/>
<line x1="27.5" y1="239.8" x2="26" y2="239.8" stroke="#000" stroke-width="0.7"/>
<line x1="27.5" y1="218.8" x2="26" y2="218.8" stroke="#000" stroke-width="0.7"/>
<line x1="27.5" y1="197.8" x2="26" y2="197.8" stroke="#000" stroke-width="0.7"/>
<line x1="27.5" y1="176.8" x2="26" y2="176.8" stroke="#000" stroke-width="0.7"/>
<text x="0" y="0" font-size="7.0" text-anchor="end" fill="#000" font-weight="bold" stroke="#000" stroke-width="0.12" transform="translate(23,294.68) scale(0.88,1)">-1.0</text>
<text x="0" y="0" font-size="7.0" text-anchor="end" fill="#000" font-weight="bold" stroke="#000" stroke-width="0.12" transform="translate(23,273.68) scale(0.88,1)">-0.8</text>
<text x="0" y="0" font-size="7.0" text-anchor="end" fill="#000" font-weight="bold" stroke="#000" stroke-width="0.12" transform="translate(23,252.68) scale(0.88,1)">-0.6</text>
<text x="0" y="0" font-size="7.0" text-anchor="end" fill="#000" font-weight="bold" stroke="#000" stroke-width="0.12" transform="translate(23,231.68) scale(0.88,1)">-0.4</text>
<text x="0" y="0" font-size="7.0" text-anchor="end" fill="#000" font-weight="bold" stroke="#000" stroke-width="0.12" transform="translate(23,210.68) scale(0.88,1)">-0.2</text>
<text x="0" y="0" font-size="7.0" text-anchor="end" fill="#000" font-weight="bold" stroke="#000" stroke-width="0.12" transform="translate(23,189.68) scale(0.88,1)">0.0</text>
<text x="94.5" y="307.3" font-size="7.0" text-anchor="middle" fill="#000" font-weight="bold" stroke="#000" stroke-width="0.12" >Time (s)</text>
<text x="0" y="0" font-size="7.3" text-anchor="middle" fill="#000" font-weight="bold" letter-spacing="0" stroke="#000" stroke-width="0.12" transform="translate(9.7,234.5) rotate(-90)">Potential (V vs SCE)</text>
<text x="9.2" y="167.8" font-size="21" text-anchor="start" fill="#000" font-weight="bold" stroke="#000" stroke-width="0.12" >d</text>
<line x1="29.5" y1="185.2" x2="101" y2="185.2" stroke="#222" stroke-width="0.9"/>
<path d="M28.3,185.2 L31.8,183.7 L31.8,186.7 Z" fill="#222"/>
<text x="28.9" y="182.8" font-size="6.6" text-anchor="start" fill="#000" font-weight="bold" stroke="#000" stroke-width="0.12" >50 A g<tspan dy="-3.3" font-size="5.28">-1</tspan></text>
<text x="91.8" y="182.9" font-size="6.6" text-anchor="start" fill="#000" font-weight="bold" stroke="#000" stroke-width="0.12" >1 A g<tspan dy="-3.3" font-size="5.28">-1</tspan></text>
<line x1="135" y1="182.9" x2="147.5" y2="182.9" stroke="#ffe84d" stroke-width="1.5"/>
<text x="150.8" y="185.1" font-size="6.6" text-anchor="start" fill="#000" font-weight="bold" stroke="#000" stroke-width="0.12" >1 A g<tspan dy="-2.77" font-size="3.96">-1</tspan></text>
<line x1="135" y1="191.43" x2="147.5" y2="191.43" stroke="#ff4040" stroke-width="1.5"/>
<text x="150.8" y="193.63" font-size="6.6" text-anchor="start" fill="#000" font-weight="bold" stroke="#000" stroke-width="0.12" >2 A g<tspan dy="-2.77" font-size="3.96">-1</tspan></text>
<line x1="135" y1="199.96" x2="147.5" y2="199.96" stroke="#5a9ad8" stroke-width="1.5"/>
<text x="150.8" y="202.16" font-size="6.6" text-anchor="start" fill="#000" font-weight="bold" stroke="#000" stroke-width="0.12" >5 A g<tspan dy="-2.77" font-size="3.96">-1</tspan></text>
<line x1="135" y1="208.49" x2="147.5" y2="208.49" stroke="#55ea55" stroke-width="1.5"/>
<text x="150.8" y="210.69" font-size="6.6" text-anchor="start" fill="#000" font-weight="bold" stroke="#000" stroke-width="0.12" >10 A g<tspan dy="-2.77" font-size="3.96">-1</tspan></text>
<line x1="135" y1="217.02" x2="147.5" y2="217.02" stroke="#ff40ff" stroke-width="1.5"/>
<text x="150.8" y="219.22" font-size="6.6" text-anchor="start" fill="#000" font-weight="bold" stroke="#000" stroke-width="0.12" >20 A g<tspan dy="-2.77" font-size="3.96">-1</tspan></text>
<line x1="135" y1="225.55" x2="147.5" y2="225.55" stroke="#ffa060" stroke-width="1.5"/>
<text x="150.8" y="227.75" font-size="6.6" text-anchor="start" fill="#000" font-weight="bold" stroke="#000" stroke-width="0.12" >50 A g<tspan dy="-2.77" font-size="3.96">-1</tspan></text>
<path d="M240,290.4 L240.23,290.37 L240.46,290.33 L240.7,290.3 L240.93,290.27 L241.16,290.23 L241.39,290.2 L241.62,290.16 L241.85,290.13 L242.09,290.1 L242.32,290.07 L242.56,290.03 L242.8,290 L243.06,289.97 L243.33,289.94 L243.6,289.92 L243.87,289.89 L244.14,289.87 L244.42,289.84 L244.69,289.82 L244.96,289.79 L245.23,289.75 L245.49,289.71 L245.75,289.66 L246,289.6 L246.22,289.54 L246.44,289.48 L246.66,289.41 L246.87,289.34 L247.08,289.27 L247.29,289.19 L247.49,289.1 L247.7,289.01 L247.9,288.92 L248.1,288.82 L248.3,288.71 L248.5,288.6 L248.72,288.47 L248.93,288.34 L249.14,288.2 L249.35,288.05 L249.56,287.9 L249.76,287.74 L249.97,287.58 L250.17,287.4 L250.38,287.22 L250.58,287.02 L250.79,286.82 L251,286.6 L251.29,286.28 L251.6,285.94 L251.9,285.58 L252.22,285.2 L252.53,284.8 L252.84,284.39 L253.14,283.96 L253.44,283.53 L253.73,283.08 L254,282.62 L254.26,282.16 L254.5,281.7 L254.74,281.19 L254.97,280.66 L255.18,280.13 L255.37,279.58 L255.56,279.03 L255.73,278.46 L255.89,277.88 L256.05,277.29 L256.19,276.69 L256.33,276.07 L256.47,275.44 L256.6,274.8 L256.75,273.98 L256.89,273.14 L257.01,272.27 L257.11,271.38 L257.21,270.47 L257.29,269.55 L257.37,268.61 L257.44,267.66 L257.51,266.7 L257.57,265.74 L257.64,264.77 L257.7,263.8 L257.77,262.7 L257.83,261.57 L257.89,260.41 L257.94,259.24 L257.98,258.05 L258.02,256.86 L258.06,255.67 L258.09,254.49 L258.12,253.33 L258.15,252.19 L258.18,251.08 L258.2,250 L258.22,249.11 L258.24,248.25 L258.26,247.41 L258.28,246.58 L258.29,245.77 L258.31,244.96 L258.32,244.15 L258.32,243.34 L258.33,242.53 L258.32,241.7 L258.31,240.86 L258.3,240 L258.28,239.04 L258.24,238.07 L258.2,237.09 L258.14,236.1 L258.09,235.1 L258.03,234.1 L257.97,233.09 L257.9,232.08 L257.85,231.06 L257.79,230.04 L257.74,229.02 L257.7,228 L257.66,226.94 L257.63,225.9 L257.59,224.85 L257.56,223.81 L257.53,222.76 L257.5,221.71 L257.47,220.64 L257.45,219.56 L257.43,218.46 L257.42,217.33 L257.41,216.18 L257.4,215 L257.4,213.49 L257.41,211.93 L257.42,210.34 L257.45,208.71 L257.47,207.05 L257.5,205.37 L257.54,203.67 L257.57,201.95 L257.61,200.22 L257.64,198.48 L257.67,196.74 L257.7,195 L257.73,193.1 L257.75,191.18 L257.78,189.24 L257.8,187.28 L257.83,185.31 L257.85,183.32 L257.88,181.33 L257.9,179.34 L257.93,177.35 L257.95,175.36 L257.98,173.37 L258,171.4" fill="none" stroke="#ff9838" stroke-width="1.1" stroke-linejoin="round" stroke-linecap="round" />
<rect x="240.04" y="289.31" width="1.9" height="1.9" fill="#ff9838"/>
<rect x="242.22" y="289" width="1.9" height="1.9" fill="#ff9838"/>
<rect x="244.77" y="288.68" width="1.9" height="1.9" fill="#ff9838"/>
<rect x="247.58" y="287.63" width="1.9" height="1.9" fill="#ff9838"/>
<rect x="250.26" y="285.36" width="1.9" height="1.9" fill="#ff9838"/>
<rect x="252.66" y="282" width="1.9" height="1.9" fill="#ff9838"/>
<rect x="254.51" y="277.61" width="1.9" height="1.9" fill="#ff9838"/>
<rect x="255.82" y="272.14" width="1.9" height="1.9" fill="#ff9838"/>
<rect x="256.48" y="265.57" width="1.9" height="1.9" fill="#ff9838"/>
<rect x="256.93" y="257.86" width="1.9" height="1.9" fill="#ff9838"/>
<rect x="257.25" y="248.83" width="1.9" height="1.9" fill="#ff9838"/>
<rect x="257.31" y="238.26" width="1.9" height="1.9" fill="#ff9838"/>
<rect x="256.72" y="225.9" width="1.9" height="1.9" fill="#ff9838"/>
<rect x="256.49" y="211.43" width="1.9" height="1.9" fill="#ff9838"/>
<rect x="256.74" y="194.49" width="1.9" height="1.9" fill="#ff9838"/>
<path d="M236.5,290.3 L236.67,290.29 L236.83,290.28 L237,290.28 L237.16,290.27 L237.33,290.26 L237.49,290.26 L237.66,290.25 L237.83,290.24 L237.99,290.23 L238.16,290.22 L238.33,290.21 L238.5,290.2 L238.68,290.19 L238.86,290.18 L239.04,290.17 L239.22,290.17 L239.4,290.16 L239.58,290.15 L239.77,290.14 L239.95,290.12 L240.13,290.1 L240.32,290.07 L240.51,290.04 L240.7,290 L240.93,289.94 L241.16,289.88 L241.39,289.81 L241.63,289.74 L241.86,289.66 L242.1,289.57 L242.34,289.47 L242.58,289.37 L242.82,289.27 L243.05,289.15 L243.28,289.03 L243.5,288.9 L243.74,288.75 L243.97,288.6 L244.19,288.43 L244.42,288.26 L244.63,288.08 L244.85,287.89 L245.07,287.7 L245.29,287.49 L245.51,287.28 L245.74,287.06 L245.97,286.84 L246.2,286.6 L246.53,286.27 L246.88,285.92 L247.24,285.56 L247.61,285.18 L247.99,284.79 L248.36,284.38 L248.73,283.96 L249.09,283.53 L249.43,283.09 L249.75,282.63 L250.04,282.17 L250.3,281.7 L250.54,281.19 L250.76,280.67 L250.96,280.13 L251.13,279.58 L251.29,279.02 L251.43,278.44 L251.56,277.86 L251.68,277.26 L251.79,276.66 L251.89,276.05 L252,275.43 L252.1,274.8 L252.21,274.05 L252.31,273.3 L252.39,272.53 L252.46,271.75 L252.52,270.95 L252.57,270.15 L252.61,269.32 L252.65,268.49 L252.69,267.64 L252.72,266.78 L252.76,265.9 L252.8,265 L252.85,263.85 L252.89,262.65 L252.93,261.4 L252.97,260.12 L253,258.82 L253.03,257.51 L253.05,256.2 L253.07,254.89 L253.08,253.61 L253.09,252.36 L253.1,251.15 L253.1,250 L253.1,249.1 L253.09,248.23 L253.08,247.38 L253.07,246.55 L253.05,245.74 L253.03,244.93 L253.01,244.13 L252.99,243.33 L252.97,242.52 L252.95,241.7 L252.92,240.86 L252.9,240 L252.87,239.04 L252.84,238.07 L252.81,237.09 L252.78,236.1 L252.74,235.1 L252.7,234.1 L252.67,233.09 L252.63,232.08 L252.6,231.06 L252.56,230.04 L252.53,229.02 L252.5,228 L252.47,226.95 L252.44,225.91 L252.41,224.89 L252.38,223.86 L252.35,222.83 L252.33,221.8 L252.3,220.74 L252.28,219.66 L252.25,218.56 L252.23,217.42 L252.22,216.23 L252.2,215 L252.18,213.19 L252.17,211.26 L252.17,209.23 L252.16,207.13 L252.17,204.97 L252.17,202.78 L252.18,200.57 L252.18,198.36 L252.19,196.18 L252.19,194.05 L252.2,191.98 L252.2,190 L252.2,188.35 L252.2,186.74 L252.2,185.16 L252.2,183.6 L252.2,182.06 L252.2,180.53 L252.2,179.01 L252.2,177.5 L252.2,175.99 L252.2,174.47 L252.2,172.94 L252.2,171.4" fill="none" stroke="#2bf52b" stroke-width="1.1" stroke-linejoin="round" stroke-linecap="round" />
<rect x="236.55" y="289.3" width="1.9" height="1.9" fill="#2bf52b"/>
<rect x="238.74" y="289.14" width="1.9" height="1.9" fill="#2bf52b"/>
<rect x="241.2" y="288.48" width="1.9" height="1.9" fill="#2bf52b"/>
<rect x="243.74" y="286.93" width="1.9" height="1.9" fill="#2bf52b"/>
<rect x="246.24" y="284.47" width="1.9" height="1.9" fill="#2bf52b"/>
<rect x="248.89" y="281.31" width="1.9" height="1.9" fill="#2bf52b"/>
<rect x="250.38" y="276.78" width="1.9" height="1.9" fill="#2bf52b"/>
<rect x="251.34" y="271.24" width="1.9" height="1.9" fill="#2bf52b"/>
<rect x="251.81" y="264.66" width="1.9" height="1.9" fill="#2bf52b"/>
<rect x="251.99" y="256.94" width="1.9" height="1.9" fill="#2bf52b"/>
<rect x="252.13" y="247.9" width="1.9" height="1.9" fill="#2bf52b"/>
<rect x="251.89" y="237.33" width="1.9" height="1.9" fill="#2bf52b"/>
<rect x="251.5" y="224.96" width="1.9" height="1.9" fill="#2bf52b"/>
<rect x="251.25" y="210.49" width="1.9" height="1.9" fill="#2bf52b"/>
<rect x="251.25" y="193.55" width="1.9" height="1.9" fill="#2bf52b"/>
<path d="M233.1,289.9 L233.33,289.77 L233.55,289.64 L233.78,289.49 L234,289.33 L234.23,289.18 L234.46,289.03 L234.68,288.89 L234.91,288.77 L235.13,288.66 L235.35,288.58 L235.58,288.52 L235.8,288.5 L236.01,288.52 L236.22,288.58 L236.42,288.68 L236.63,288.8 L236.83,288.93 L237.04,289.08 L237.24,289.23 L237.45,289.37 L237.66,289.49 L237.87,289.6 L238.08,289.67 L238.3,289.7 L238.54,289.7 L238.79,289.67 L239.05,289.62 L239.31,289.55 L239.57,289.47 L239.83,289.37 L240.09,289.26 L240.35,289.13 L240.6,289 L240.84,288.87 L241.08,288.74 L241.3,288.6 L241.5,288.47 L241.69,288.34 L241.88,288.19 L242.06,288.05 L242.23,287.9 L242.4,287.74 L242.57,287.57 L242.73,287.39 L242.9,287.21 L243.06,287.02 L243.23,286.81 L243.4,286.6 L243.64,286.28 L243.89,285.94 L244.14,285.58 L244.4,285.19 L244.65,284.79 L244.9,284.38 L245.14,283.95 L245.38,283.51 L245.61,283.07 L245.82,282.61 L246.02,282.16 L246.2,281.7 L246.38,281.18 L246.55,280.66 L246.7,280.13 L246.83,279.59 L246.95,279.04 L247.06,278.48 L247.17,277.91 L247.26,277.32 L247.35,276.72 L247.43,276.09 L247.52,275.46 L247.6,274.8 L247.7,273.88 L247.79,272.94 L247.87,271.96 L247.93,270.96 L247.98,269.93 L248.03,268.87 L248.07,267.78 L248.1,266.67 L248.13,265.54 L248.15,264.38 L248.18,263.2 L248.2,262 L248.23,260.38 L248.24,258.69 L248.25,256.95 L248.24,255.16 L248.23,253.32 L248.21,251.46 L248.19,249.57 L248.17,247.66 L248.15,245.74 L248.13,243.82 L248.11,241.9 L248.1,240 L248.09,237.99 L248.08,236.01 L248.07,234.02 L248.06,232.04 L248.05,230.05 L248.04,228.03 L248.04,225.99 L248.03,223.9 L248.02,221.77 L248.01,219.58 L248.01,217.33 L248,215 L247.99,211.79 L247.99,208.43 L247.99,204.95 L247.99,201.36 L247.99,197.69 L247.99,193.95 L247.99,190.18 L247.99,186.38 L248,182.58 L248,178.81 L248,175.07 L248,171.4" fill="none" stroke="#ff22ff" stroke-width="1.1" stroke-linejoin="round" stroke-linecap="round" />
<rect x="233.04" y="288.49" width="1.9" height="1.9" fill="#ff22ff"/>
<rect x="234.99" y="287.62" width="1.9" height="1.9" fill="#ff22ff"/>
<rect x="237.31" y="288.73" width="1.9" height="1.9" fill="#ff22ff"/>
<rect x="240.14" y="287.73" width="1.9" height="1.9" fill="#ff22ff"/>
<rect x="242.65" y="285.3" width="1.9" height="1.9" fill="#ff22ff"/>
<rect x="244.69" y="281.72" width="1.9" height="1.9" fill="#ff22ff"/>
<rect x="245.99" y="277.12" width="1.9" height="1.9" fill="#ff22ff"/>
<rect x="246.76" y="271.55" width="1.9" height="1.9" fill="#ff22ff"/>
<rect x="247.07" y="264.95" width="1.9" height="1.9" fill="#ff22ff"/>
<rect x="247.23" y="257.23" width="1.9" height="1.9" fill="#ff22ff"/>
<rect x="247.19" y="248.19" width="1.9" height="1.9" fill="#ff22ff"/>
<rect x="247.14" y="237.62" width="1.9" height="1.9" fill="#ff22ff"/>
<rect x="247.09" y="225.25" width="1.9" height="1.9" fill="#ff22ff"/>
<rect x="247.05" y="210.77" width="1.9" height="1.9" fill="#ff22ff"/>
<rect x="247.05" y="193.83" width="1.9" height="1.9" fill="#ff22ff"/>
<path d="M272.3,290.5 L272.48,290.35 L272.66,290.2 L272.84,290.04 L273.02,289.88 L273.2,289.72 L273.38,289.57 L273.56,289.41 L273.75,289.27 L273.93,289.13 L274.12,289.01 L274.31,288.9 L274.5,288.8 L274.68,288.73 L274.85,288.66 L275.04,288.59 L275.22,288.54 L275.4,288.49 L275.59,288.45 L275.78,288.41 L275.96,288.39 L276.15,288.38 L276.33,288.37 L276.52,288.38 L276.7,288.4 L276.89,288.44 L277.09,288.5 L277.28,288.57 L277.47,288.66 L277.67,288.76 L277.86,288.87 L278.05,288.99 L278.24,289.1 L278.43,289.21 L278.62,289.32 L278.81,289.42 L279,289.5 L279.17,289.57 L279.34,289.66 L279.51,289.74 L279.68,289.82 L279.85,289.91 L280.02,289.99 L280.19,290.06 L280.35,290.12 L280.52,290.16 L280.68,290.2 L280.84,290.21 L281,290.2 L281.16,290.17 L281.32,290.12 L281.47,290.05 L281.63,289.97 L281.78,289.87 L281.94,289.77 L282.09,289.65 L282.24,289.53 L282.38,289.4 L282.52,289.27 L282.66,289.13 L282.8,289 L282.95,288.85 L283.1,288.7 L283.24,288.54 L283.37,288.37 L283.51,288.2 L283.64,288.03 L283.77,287.84 L283.89,287.64 L284.02,287.43 L284.15,287.2 L284.27,286.96 L284.4,286.7 L284.63,286.18 L284.86,285.59 L285.09,284.94 L285.32,284.24 L285.55,283.49 L285.77,282.72 L285.99,281.92 L286.2,281.12 L286.41,280.32 L286.62,279.52 L286.81,278.75 L287,278 L287.18,277.29 L287.35,276.58 L287.51,275.87 L287.66,275.17 L287.82,274.46 L287.96,273.76 L288.1,273.05 L288.25,272.33 L288.38,271.61 L288.52,270.88 L288.66,270.15 L288.8,269.4 L288.95,268.57 L289.1,267.73 L289.25,266.87 L289.4,266.01 L289.54,265.14 L289.69,264.26 L289.83,263.38 L289.97,262.5 L290.1,261.62 L290.24,260.74 L290.37,259.87 L290.5,259 L290.63,258.14 L290.75,257.27 L290.87,256.4 L290.99,255.53 L291.11,254.66 L291.22,253.79 L291.34,252.93 L291.45,252.07 L291.56,251.21 L291.68,250.37 L291.79,249.53 L291.9,248.7 L292,247.95 L292.11,247.21 L292.21,246.49 L292.32,245.77 L292.42,245.05 L292.53,244.34 L292.63,243.63 L292.73,242.92 L292.83,242.2 L292.92,241.48 L293.01,240.74 L293.1,240 L293.19,239.21 L293.27,238.43 L293.35,237.66 L293.43,236.89 L293.5,236.11 L293.57,235.33 L293.64,234.52 L293.71,233.69 L293.78,232.83 L293.85,231.94 L293.92,230.99 L294,230 L294.12,228.32 L294.24,226.53 L294.36,224.63 L294.49,222.64 L294.61,220.57 L294.73,218.44 L294.86,216.25 L294.98,214.02 L295.11,211.77 L295.24,209.51 L295.37,207.25 L295.5,205 L295.66,202.37 L295.82,199.69 L295.98,196.95 L296.15,194.17 L296.31,191.35 L296.48,188.51 L296.65,185.65 L296.82,182.78 L296.99,179.92 L297.16,177.06 L297.33,174.22 L297.5,171.4" fill="none" stroke="#ff2a2a" stroke-width="1.1" stroke-linejoin="round" stroke-linecap="round" />
<rect x="272.14" y="288.94" width="1.9" height="1.9" fill="#ff2a2a"/>
<rect x="273.96" y="287.77" width="1.9" height="1.9" fill="#ff2a2a"/>
<rect x="276.43" y="287.78" width="1.9" height="1.9" fill="#ff2a2a"/>
<rect x="279.2" y="288.95" width="1.9" height="1.9" fill="#ff2a2a"/>
<rect x="282.11" y="287.67" width="1.9" height="1.9" fill="#ff2a2a"/>
<rect x="283.96" y="284.04" width="1.9" height="1.9" fill="#ff2a2a"/>
<rect x="285.34" y="279.42" width="1.9" height="1.9" fill="#ff2a2a"/>
<rect x="286.7" y="273.95" width="1.9" height="1.9" fill="#ff2a2a"/>
<rect x="288.01" y="267.48" width="1.9" height="1.9" fill="#ff2a2a"/>
<rect x="289.26" y="259.85" width="1.9" height="1.9" fill="#ff2a2a"/>
<rect x="290.52" y="250.91" width="1.9" height="1.9" fill="#ff2a2a"/>
<rect x="291.96" y="240.43" width="1.9" height="1.9" fill="#ff2a2a"/>
<rect x="293.11" y="228.11" width="1.9" height="1.9" fill="#ff2a2a"/>
<rect x="293.97" y="213.66" width="1.9" height="1.9" fill="#ff2a2a"/>
<rect x="294.98" y="196.75" width="1.9" height="1.9" fill="#ff2a2a"/>
<path d="M283.6,290.5 L283.93,290.44 L284.25,290.39 L284.58,290.34 L284.9,290.29 L285.23,290.24 L285.56,290.19 L285.88,290.14 L286.21,290.08 L286.53,290.02 L286.85,289.95 L287.18,289.88 L287.5,289.8 L287.83,289.71 L288.16,289.61 L288.49,289.51 L288.82,289.41 L289.15,289.3 L289.47,289.19 L289.8,289.07 L290.13,288.94 L290.45,288.81 L290.77,288.68 L291.09,288.54 L291.4,288.4 L291.71,288.25 L292.02,288.1 L292.33,287.94 L292.64,287.78 L292.94,287.61 L293.24,287.44 L293.54,287.27 L293.84,287.08 L294.14,286.9 L294.43,286.7 L294.72,286.5 L295,286.3 L295.29,286.09 L295.58,285.87 L295.87,285.66 L296.16,285.44 L296.44,285.21 L296.72,284.98 L296.99,284.73 L297.26,284.48 L297.53,284.21 L297.79,283.92 L298.05,283.62 L298.3,283.3 L298.63,282.84 L298.95,282.35 L299.27,281.83 L299.58,281.29 L299.88,280.72 L300.18,280.13 L300.46,279.52 L300.73,278.89 L301,278.25 L301.24,277.61 L301.48,276.96 L301.7,276.3 L301.93,275.53 L302.14,274.73 L302.33,273.91 L302.49,273.07 L302.65,272.22 L302.79,271.35 L302.91,270.48 L303.03,269.59 L303.15,268.7 L303.27,267.8 L303.38,266.9 L303.5,266 L303.63,265.02 L303.75,264.04 L303.86,263.04 L303.97,262.04 L304.07,261.03 L304.16,260.02 L304.26,258.99 L304.35,257.96 L304.44,256.93 L304.52,255.89 L304.61,254.85 L304.7,253.8 L304.8,252.67 L304.89,251.52 L304.99,250.36 L305.08,249.18 L305.17,248 L305.26,246.82 L305.35,245.64 L305.43,244.47 L305.51,243.32 L305.58,242.18 L305.64,241.08 L305.7,240 L305.74,239.13 L305.78,238.29 L305.81,237.49 L305.83,236.72 L305.85,235.95 L305.87,235.18 L305.89,234.41 L305.91,233.61 L305.93,232.78 L305.95,231.91 L305.97,230.99 L306,230 L306.05,228.32 L306.11,226.53 L306.18,224.63 L306.24,222.64 L306.31,220.57 L306.39,218.43 L306.46,216.25 L306.53,214.02 L306.6,211.77 L306.67,209.51 L306.74,207.25 L306.8,205 L306.87,202.37 L306.93,199.69 L306.99,196.95 L307.05,194.17 L307.11,191.35 L307.17,188.51 L307.22,185.65 L307.28,182.78 L307.33,179.92 L307.39,177.06 L307.44,174.22 L307.5,171.4" fill="none" stroke="#ffea30" stroke-width="1.1" stroke-linejoin="round" stroke-linecap="round" />
<rect x="283.63" y="289.37" width="1.9" height="1.9" fill="#ffea30"/>
<rect x="285.8" y="288.98" width="1.9" height="1.9" fill="#ffea30"/>
<rect x="288.26" y="288.24" width="1.9" height="1.9" fill="#ffea30"/>
<rect x="291.04" y="287.11" width="1.9" height="1.9" fill="#ffea30"/>
<rect x="294.08" y="285.33" width="1.9" height="1.9" fill="#ffea30"/>
<rect x="297.13" y="282.55" width="1.9" height="1.9" fill="#ffea30"/>
<rect x="299.33" y="278.28" width="1.9" height="1.9" fill="#ffea30"/>
<rect x="301.16" y="273" width="1.9" height="1.9" fill="#ffea30"/>
<rect x="302.3" y="266.5" width="1.9" height="1.9" fill="#ffea30"/>
<rect x="303.16" y="258.83" width="1.9" height="1.9" fill="#ffea30"/>
<rect x="303.97" y="249.82" width="1.9" height="1.9" fill="#ffea30"/>
<rect x="304.73" y="239.28" width="1.9" height="1.9" fill="#ffea30"/>
<rect x="305.12" y="226.91" width="1.9" height="1.9" fill="#ffea30"/>
<rect x="305.58" y="212.44" width="1.9" height="1.9" fill="#ffea30"/>
<rect x="306.03" y="195.51" width="1.9" height="1.9" fill="#ffea30"/>
<path d="M282.7,290.5 L282.89,290.4 L283.08,290.29 L283.28,290.18 L283.47,290.07 L283.66,289.97 L283.85,289.86 L284.05,289.75 L284.24,289.65 L284.43,289.55 L284.62,289.46 L284.81,289.38 L285,289.3 L285.17,289.24 L285.33,289.17 L285.5,289.11 L285.66,289.05 L285.82,289 L285.99,288.95 L286.15,288.9 L286.31,288.87 L286.48,288.84 L286.65,288.81 L286.82,288.8 L287,288.8 L287.21,288.81 L287.43,288.85 L287.65,288.9 L287.87,288.96 L288.1,289.04 L288.33,289.12 L288.56,289.2 L288.79,289.29 L289.02,289.38 L289.25,289.46 L289.48,289.53 L289.7,289.6 L289.91,289.66 L290.12,289.72 L290.32,289.79 L290.53,289.86 L290.73,289.93 L290.93,289.99 L291.14,290.05 L291.34,290.1 L291.55,290.14 L291.76,290.18 L291.98,290.2 L292.2,290.2 L292.46,290.19 L292.72,290.16 L292.99,290.11 L293.27,290.05 L293.54,289.98 L293.82,289.9 L294.1,289.81 L294.38,289.71 L294.66,289.61 L294.94,289.51 L295.22,289.4 L295.5,289.3 L295.8,289.19 L296.1,289.07 L296.4,288.94 L296.7,288.8 L297.01,288.67 L297.31,288.52 L297.61,288.37 L297.91,288.22 L298.21,288.07 L298.51,287.91 L298.81,287.76 L299.1,287.6 L299.39,287.44 L299.69,287.28 L299.98,287.13 L300.28,286.96 L300.57,286.8 L300.86,286.63 L301.15,286.46 L301.43,286.29 L301.71,286.1 L301.98,285.91 L302.24,285.71 L302.5,285.5 L302.75,285.28 L303,285.07 L303.25,284.85 L303.49,284.63 L303.72,284.4 L303.95,284.16 L304.17,283.91 L304.39,283.65 L304.6,283.37 L304.81,283.07 L305.01,282.74 L305.2,282.4 L305.49,281.81 L305.76,281.16 L306.01,280.46 L306.26,279.7 L306.48,278.91 L306.7,278.09 L306.9,277.24 L307.1,276.38 L307.28,275.5 L307.46,274.63 L307.63,273.76 L307.8,272.9 L307.97,271.95 L308.13,270.99 L308.28,270.01 L308.41,269.02 L308.53,268.01 L308.64,267 L308.74,265.98 L308.84,264.95 L308.93,263.92 L309.02,262.88 L309.11,261.84 L309.2,260.8 L309.29,259.67 L309.38,258.5 L309.46,257.31 L309.53,256.1 L309.6,254.88 L309.66,253.67 L309.72,252.47 L309.78,251.29 L309.84,250.15 L309.89,249.04 L309.95,247.99 L310,247 L310.04,246.34 L310.08,245.71 L310.12,245.11 L310.16,244.54 L310.2,243.98 L310.24,243.43 L310.28,242.89 L310.31,242.34 L310.34,241.78 L310.36,241.21 L310.39,240.62 L310.4,240 L310.41,239.24 L310.4,238.49 L310.39,237.73 L310.37,236.97 L310.35,236.19 L310.32,235.39 L310.29,234.58 L310.26,233.73 L310.24,232.86 L310.22,231.95 L310.2,231 L310.2,230 L310.21,228.32 L310.24,226.53 L310.27,224.63 L310.32,222.64 L310.37,220.57 L310.43,218.43 L310.5,216.25 L310.56,214.02 L310.63,211.77 L310.69,209.51 L310.75,207.25 L310.8,205 L310.85,202.37 L310.91,199.69 L310.96,196.95 L311.01,194.17 L311.06,191.35 L311.11,188.51 L311.16,185.65 L311.2,182.78 L311.25,179.92 L311.3,177.06 L311.35,174.22 L311.4,171.4" fill="none" stroke="#1a5ee8" stroke-width="1.1" stroke-linejoin="round" stroke-linecap="round" />
<rect x="282.64" y="289.09" width="1.9" height="1.9" fill="#1a5ee8"/>
<rect x="284.64" y="288.2" width="1.9" height="1.9" fill="#1a5ee8"/>
<rect x="287.12" y="288.17" width="1.9" height="1.9" fill="#1a5ee8"/>
<rect x="290.03" y="288.96" width="1.9" height="1.9" fill="#1a5ee8"/>
<rect x="293.44" y="288.65" width="1.9" height="1.9" fill="#1a5ee8"/>
<rect x="297.23" y="287.08" width="1.9" height="1.9" fill="#1a5ee8"/>
<rect x="301.39" y="284.65" width="1.9" height="1.9" fill="#1a5ee8"/>
<rect x="304.61" y="280.15" width="1.9" height="1.9" fill="#1a5ee8"/>
<rect x="306.35" y="273.78" width="1.9" height="1.9" fill="#1a5ee8"/>
<rect x="307.52" y="266.16" width="1.9" height="1.9" fill="#1a5ee8"/>
<rect x="308.41" y="257.17" width="1.9" height="1.9" fill="#1a5ee8"/>
<rect x="309.02" y="246.61" width="1.9" height="1.9" fill="#1a5ee8"/>
<rect x="309.35" y="234.25" width="1.9" height="1.9" fill="#1a5ee8"/>
<rect x="309.47" y="219.78" width="1.9" height="1.9" fill="#1a5ee8"/>
<rect x="309.87" y="202.85" width="1.9" height="1.9" fill="#1a5ee8"/>
<rect x="310.19" y="184.85" width="1.9" height="1.9" fill="#1a5ee8"/>
<rect x="206.5" y="171.4" width="148.5" height="119.9" fill="none" stroke="#1a1a1a" stroke-width="1.2"/>
<line x1="206.6" y1="291.3" x2="206.6" y2="293.9" stroke="#000" stroke-width="0.8"/>
<line x1="223.03" y1="291.3" x2="223.03" y2="293.9" stroke="#000" stroke-width="0.8"/>
<line x1="239.45" y1="291.3" x2="239.45" y2="293.9" stroke="#000" stroke-width="0.8"/>
<line x1="255.88" y1="291.3" x2="255.88" y2="293.9" stroke="#000" stroke-width="0.8"/>
<line x1="272.3" y1="291.3" x2="272.3" y2="293.9" stroke="#000" stroke-width="0.8"/>
<line x1="288.73" y1="291.3" x2="288.73" y2="293.9" stroke="#000" stroke-width="0.8"/>
<line x1="305.15" y1="291.3" x2="305.15" y2="293.9" stroke="#000" stroke-width="0.8"/>
<line x1="321.57" y1="291.3" x2="321.57" y2="293.9" stroke="#000" stroke-width="0.8"/>
<line x1="338" y1="291.3" x2="338" y2="293.9" stroke="#000" stroke-width="0.8"/>
<line x1="354.43" y1="291.3" x2="354.43" y2="293.9" stroke="#000" stroke-width="0.8"/>
<line x1="214.81" y1="291.3" x2="214.81" y2="292.8" stroke="#000" stroke-width="0.7"/>
<line x1="231.24" y1="291.3" x2="231.24" y2="292.8" stroke="#000" stroke-width="0.7"/>
<line x1="247.66" y1="291.3" x2="247.66" y2="292.8" stroke="#000" stroke-width="0.7"/>
<line x1="264.09" y1="291.3" x2="264.09" y2="292.8" stroke="#000" stroke-width="0.7"/>
<line x1="280.51" y1="291.3" x2="280.51" y2="292.8" stroke="#000" stroke-width="0.7"/>
<line x1="296.94" y1="291.3" x2="296.94" y2="292.8" stroke="#000" stroke-width="0.7"/>
<line x1="313.36" y1="291.3" x2="313.36" y2="292.8" stroke="#000" stroke-width="0.7"/>
<line x1="329.79" y1="291.3" x2="329.79" y2="292.8" stroke="#000" stroke-width="0.7"/>
<line x1="346.21" y1="291.3" x2="346.21" y2="292.8" stroke="#000" stroke-width="0.7"/>
<text x="206.6" y="300.3" font-size="7.0" text-anchor="middle" fill="#000" font-weight="bold" stroke="#000" stroke-width="0.12" >0.0</text>
<text x="223.03" y="300.3" font-size="7.0" text-anchor="middle" fill="#000" font-weight="bold" stroke="#000" stroke-width="0.12" >0.5</text>
<text x="239.45" y="300.3" font-size="7.0" text-anchor="middle" fill="#000" font-weight="bold" stroke="#000" stroke-width="0.12" >1.0</text>
<text x="255.88" y="300.3" font-size="7.0" text-anchor="middle" fill="#000" font-weight="bold" stroke="#000" stroke-width="0.12" >1.5</text>
<text x="272.3" y="300.3" font-size="7.0" text-anchor="middle" fill="#000" font-weight="bold" stroke="#000" stroke-width="0.12" >2.0</text>
<text x="288.73" y="300.3" font-size="7.0" text-anchor="middle" fill="#000" font-weight="bold" stroke="#000" stroke-width="0.12" >2.5</text>
<text x="305.15" y="300.3" font-size="7.0" text-anchor="middle" fill="#000" font-weight="bold" stroke="#000" stroke-width="0.12" >3.0</text>
<text x="321.57" y="300.3" font-size="7.0" text-anchor="middle" fill="#000" font-weight="bold" stroke="#000" stroke-width="0.12" >3.5</text>
<text x="338" y="300.3" font-size="7.0" text-anchor="middle" fill="#000" font-weight="bold" stroke="#000" stroke-width="0.12" >4.0</text>
<text x="354.43" y="300.3" font-size="7.0" text-anchor="middle" fill="#000" font-weight="bold" stroke="#000" stroke-width="0.12" >4.5</text>
<line x1="206.5" y1="291.3" x2="203.9" y2="291.3" stroke="#000" stroke-width="0.8"/>
<line x1="206.5" y1="278" x2="203.9" y2="278" stroke="#000" stroke-width="0.8"/>
<line x1="206.5" y1="264.7" x2="203.9" y2="264.7" stroke="#000" stroke-width="0.8"/>
<line x1="206.5" y1="251.4" x2="203.9" y2="251.4" stroke="#000" stroke-width="0.8"/>
<line x1="206.5" y1="238.1" x2="203.9" y2="238.1" stroke="#000" stroke-width="0.8"/>
<line x1="206.5" y1="224.8" x2="203.9" y2="224.8" stroke="#000" stroke-width="0.8"/>
<line x1="206.5" y1="211.5" x2="203.9" y2="211.5" stroke="#000" stroke-width="0.8"/>
<line x1="206.5" y1="198.2" x2="203.9" y2="198.2" stroke="#000" stroke-width="0.8"/>
<line x1="206.5" y1="184.9" x2="203.9" y2="184.9" stroke="#000" stroke-width="0.8"/>
<line x1="206.5" y1="171.6" x2="203.9" y2="171.6" stroke="#000" stroke-width="0.8"/>
<line x1="206.5" y1="284.65" x2="205" y2="284.65" stroke="#000" stroke-width="0.7"/>
<line x1="206.5" y1="271.35" x2="205" y2="271.35" stroke="#000" stroke-width="0.7"/>
<line x1="206.5" y1="258.05" x2="205" y2="258.05" stroke="#000" stroke-width="0.7"/>
<line x1="206.5" y1="244.75" x2="205" y2="244.75" stroke="#000" stroke-width="0.7"/>
<line x1="206.5" y1="231.45" x2="205" y2="231.45" stroke="#000" stroke-width="0.7"/>
<line x1="206.5" y1="218.15" x2="205" y2="218.15" stroke="#000" stroke-width="0.7"/>
<line x1="206.5" y1="204.85" x2="205" y2="204.85" stroke="#000" stroke-width="0.7"/>
<line x1="206.5" y1="191.55" x2="205" y2="191.55" stroke="#000" stroke-width="0.7"/>
<line x1="206.5" y1="178.25" x2="205" y2="178.25" stroke="#000" stroke-width="0.7"/>
<text x="0" y="0" font-size="7.0" text-anchor="end" fill="#000" font-weight="bold" stroke="#000" stroke-width="0.12" transform="translate(202,293.68) scale(0.88,1)">0.0</text>
<text x="0" y="0" font-size="7.0" text-anchor="end" fill="#000" font-weight="bold" stroke="#000" stroke-width="0.12" transform="translate(202,280.38) scale(0.88,1)">0.5</text>
<text x="0" y="0" font-size="7.0" text-anchor="end" fill="#000" font-weight="bold" stroke="#000" stroke-width="0.12" transform="translate(202,267.08) scale(0.88,1)">1.0</text>
<text x="0" y="0" font-size="7.0" text-anchor="end" fill="#000" font-weight="bold" stroke="#000" stroke-width="0.12" transform="translate(202,253.78) scale(0.88,1)">1.5</text>
<text x="0" y="0" font-size="7.0" text-anchor="end" fill="#000" font-weight="bold" stroke="#000" stroke-width="0.12" transform="translate(202,240.48) scale(0.88,1)">2.0</text>
<text x="0" y="0" font-size="7.0" text-anchor="end" fill="#000" font-weight="bold" stroke="#000" stroke-width="0.12" transform="translate(202,227.18) scale(0.88,1)">2.5</text>
<text x="0" y="0" font-size="7.0" text-anchor="end" fill="#000" font-weight="bold" stroke="#000" stroke-width="0.12" transform="translate(202,213.88) scale(0.88,1)">3.0</text>
<text x="0" y="0" font-size="7.0" text-anchor="end" fill="#000" font-weight="bold" stroke="#000" stroke-width="0.12" transform="translate(202,200.58) scale(0.88,1)">3.5</text>
<text x="0" y="0" font-size="7.0" text-anchor="end" fill="#000" font-weight="bold" stroke="#000" stroke-width="0.12" transform="translate(202,187.28) scale(0.88,1)">4.0</text>
<text x="0" y="0" font-size="7.0" text-anchor="end" fill="#000" font-weight="bold" stroke="#000" stroke-width="0.12" transform="translate(202,173.98) scale(0.88,1)">4.5</text>
<text x="280.7" y="309" font-size="7.0" text-anchor="middle" fill="#000" font-weight="bold" stroke="#000" stroke-width="0.12" >Z (Ohm)</text>
<text x="0" y="0" font-size="7.0" text-anchor="middle" fill="#000" font-weight="bold" letter-spacing="0" stroke="#000" stroke-width="0.12" transform="translate(191.2,231.3) rotate(-90)">-Z'' (Ohm)</text>
<text x="183.4" y="167.9" font-size="21" text-anchor="start" fill="#000" font-weight="bold" stroke="#000" stroke-width="0.12" >e</text>
<line x1="316.3" y1="177.5" x2="328.7" y2="177.5" stroke="#ffea30" stroke-width="1.3"/>
<rect x="321.6" y="176.6" width="1.8" height="1.8" fill="#ffea30"/>
<text x="332.2" y="179.7" font-size="6.6" text-anchor="start" fill="#000" font-weight="bold" stroke="#000" stroke-width="0.12" >PC-1</text>
<line x1="316.3" y1="185.26" x2="328.7" y2="185.26" stroke="#ff2a2a" stroke-width="1.3"/>
<rect x="321.6" y="184.36" width="1.8" height="1.8" fill="#ff2a2a"/>
<text x="332.2" y="187.46" font-size="6.6" text-anchor="start" fill="#000" font-weight="bold" stroke="#000" stroke-width="0.12" >PC-2</text>
<line x1="316.3" y1="193.02" x2="328.7" y2="193.02" stroke="#1a5ee8" stroke-width="1.3"/>
<rect x="321.6" y="192.12" width="1.8" height="1.8" fill="#1a5ee8"/>
<text x="332.2" y="195.22" font-size="6.6" text-anchor="start" fill="#000" font-weight="bold" stroke="#000" stroke-width="0.12" >PC-3</text>
<line x1="316.3" y1="200.78" x2="328.7" y2="200.78" stroke="#2bf52b" stroke-width="1.3"/>
<rect x="321.6" y="199.88" width="1.8" height="1.8" fill="#2bf52b"/>
<text x="332.2" y="202.98" font-size="6.6" text-anchor="start" fill="#000" font-weight="bold" stroke="#000" stroke-width="0.12" >APC-1</text>
<line x1="316.3" y1="208.54" x2="328.7" y2="208.54" stroke="#ff22ff" stroke-width="1.3"/>
<rect x="321.6" y="207.64" width="1.8" height="1.8" fill="#ff22ff"/>
<text x="332.2" y="210.74" font-size="6.6" text-anchor="start" fill="#000" font-weight="bold" stroke="#000" stroke-width="0.12" >APC-2</text>
<line x1="316.3" y1="216.3" x2="328.7" y2="216.3" stroke="#ff9838" stroke-width="1.3"/>
<rect x="321.6" y="215.4" width="1.8" height="1.8" fill="#ff9838"/>
<text x="332.2" y="218.5" font-size="6.6" text-anchor="start" fill="#000" font-weight="bold" stroke="#000" stroke-width="0.12" >APC-3</text>
<path d="M385.2,186.5 L385.42,183 L385.68,182.44 L386.17,182.75 L386.65,182.58 L387.14,182.82 L387.62,182.84 L388.11,182.29 L388.59,182.24 L389.08,183.06 L389.56,182.49 L390.05,182.47 L390.53,183.23 L391.02,182.71 L391.5,183.08 L391.99,182.72 L392.47,182.89 L392.96,182.4 L393.44,182.89 L393.93,183.13 L394.41,182.79 L394.9,183.01 L395.38,182.94 L395.87,182.34 L396.35,183.04 L396.84,182.87 L397.32,182.58 L397.81,182.32 L398.29,183.16 L398.78,182.77 L399.26,183.02 L399.75,183.18 L400.23,183.02 L400.72,183.23 L401.2,182.71 L401.69,183.11 L402.17,182.76 L402.66,183.26 L403.14,183.2 L403.63,182.42 L404.11,182.47 L404.6,182.55 L405.08,183.3 L405.57,182.78 L406.05,182.97 L406.54,182.65 L407.02,182.86 L407.51,182.74 L407.99,182.71 L408.48,182.95 L408.96,182.95 L409.45,183.27 L409.93,183.05 L410.42,183.3 L410.9,183.23 L411.39,183.37 L411.87,183.05 L412.36,182.55 L412.84,183.25 L413.33,183.36 L413.81,183.3 L414.3,182.97 L414.78,183.12 L415.27,182.62 L415.75,183.24 L416.24,182.99 L416.72,182.7 L417.21,182.48 L417.69,183.28 L418.18,183.42 L418.66,182.52 L419.15,183.23 L419.63,182.85 L420.12,182.59 L420.6,182.74 L421.09,183.22 L421.57,183.32 L422.06,182.5 L422.54,183.07 L423.03,182.51 L423.51,183.18 L424,182.8 L424.48,183.35 L424.97,183.45 L425.45,182.98 L425.94,183.48 L426.42,182.79 L426.91,182.56 L427.39,183.09 L427.88,182.53 L428.36,182.69 L428.85,182.91 L429.33,183.11 L429.82,182.66 L430.3,182.55 L430.79,183.38 L431.27,182.83 L431.76,183.48 L432.24,183.42 L432.73,182.91 L433.21,182.99 L433.7,183.05 L434.18,183.18 L434.67,183.14 L435.15,183.1 L435.64,183.17 L436.12,183.49 L436.61,183.06 L437.09,182.99 L437.58,183.28 L438.06,182.8 L438.55,182.87 L439.03,183.55 L439.52,183.1 L440,183.13 L440.49,182.59 L440.97,183 L441.46,183.17 L441.94,182.61 L442.43,183.21 L442.91,183.23 L443.4,182.66 L443.88,183.23 L444.37,183.07 L444.85,183.29 L445.34,182.97 L445.82,183.32 L446.31,183.36 L446.79,182.65 L447.28,182.69 L447.76,183.31 L448.25,183.6 L448.73,182.89 L449.22,183.1 L449.7,183.24 L450.19,182.97 L450.67,183.01 L451.16,182.97 L451.64,183.03 L452.13,183.26 L452.61,182.96 L453.1,183.04 L453.58,183.44 L454.07,182.7 L454.55,183.25 L455.04,183.42 L455.52,182.99 L456.01,182.91 L456.49,183.49 L456.98,182.93 L457.46,182.89 L457.95,183.14 L458.43,183.4 L458.92,182.81 L459.4,183.03 L459.89,183.05 L460.37,183.55 L460.86,183.16 L461.34,183.58 L461.82,182.9 L462.31,183.07 L462.79,183.38 L463.28,183.62 L463.76,183.19 L464.25,182.97 L464.73,182.87 L465.22,183.28 L465.7,182.95 L466.19,183.56 L466.67,183.6 L467.16,182.95 L467.64,183.05 L468.13,183.58 L468.61,183.42 L469.1,183.58 L469.58,183.13 L470.07,182.91 L470.55,183.08 L471.04,183.59 L471.52,183.07 L472.01,183.14 L472.49,183.22 L472.98,183.22 L473.46,183.22 L473.95,183.73 L474.43,182.97 L474.92,182.82 L475.4,183.76 L475.89,183.7 L476.37,183.81 L476.86,183.27 L477.34,183.78 L477.83,183.77 L478.31,183.06 L478.8,183.59 L479.28,183.68 L479.77,183.51 L480.25,183.37 L480.74,183.15 L481.22,183.2 L481.71,183.09 L482.19,182.94 L482.68,183.46 L483.16,183.16 L483.65,183.69 L484.13,182.93 L484.62,183.79 L485.1,183.58 L485.59,183.82 L486.07,183.79 L486.56,183.8 L487.04,183.48 L487.53,182.92 L488.01,183.65 L488.5,183.08 L488.98,183.21 L489.47,183.58 L489.95,183.45 L490.44,183.34 L490.92,183.87 L491.41,183.54 L491.89,183.28 L492.38,183.19 L492.86,183.8 L493.35,183.42 L493.83,183.73 L494.32,183.3 L494.8,183.15 L495.29,183.49 L495.77,183.78 L496.26,183.14 L496.74,183.76 L497.23,183.89 L497.71,183.78 L498.2,183.8 L498.68,182.99 L499.17,183.61 L499.65,183.85 L500.14,183.04 L500.62,183.27 L501.11,183.27 L501.59,183.53 L502.08,183.43 L502.56,183.48 L503.05,183.79 L503.53,183.02 L504.02,183.07 L504.5,183.15 L504.99,183.15 L505.47,183.1 L505.96,184.01 L506.44,183.89 L506.93,183.12 L507.41,183.54 L507.9,183.36 L508.38,183.36 L508.87,183.4 L509.35,183.7 L509.84,183.64 L510.32,183.42 L510.81,183.26 L511.29,183.4 L511.78,183.2 L512.26,183.63 L512.75,183.79 L513.23,183.46 L513.72,183.17 L514.2,183.27 L514.69,183.47 L515.17,183.7 L515.66,183.88 L516.14,183.48 L516.63,183.91 L517.11,183.73 L517.6,183.54 L518.08,183.49 L518.57,183.61 L519.05,183.82 L519.54,183.55 L520.02,183.82 L520.51,183.59 L520.99,183.38 L521.48,183.67 L521.96,183.84 L522.45,183.22 L522.93,183.57 L523.42,183.58 L523.9,184.03 L524.39,184.1 L524.87,183.54 L525.36,184.06 L525.84,183.96 L526.33,183.43 L526.81,183.64 L527.3,183.3 L527.78,184 L528.27,183.85 L528.75,184.08 L529.24,183.98 L529.72,183.86 L530.21,183.93" fill="none" stroke="#ff5050" stroke-width="2.3" stroke-linejoin="round" stroke-linecap="round" />
<path d="M385.2,190 L385.42,191.2 L385.68,191.46 L386.17,191.05 L386.65,191.49 L387.14,190.97 L387.62,191.1 L388.11,191.67 L388.59,191.02 L389.08,191.06 L389.56,191.07 L390.05,191.78 L390.53,191.15 L391.02,191.02 L391.5,191.76 L391.99,191.11 L392.47,191.76 L392.96,191.61 L393.44,191.77 L393.93,191.87 L394.41,191.54 L394.9,191.74 L395.38,191.06 L395.87,191.72 L396.35,191.49 L396.84,191.68 L397.32,191.14 L397.81,191.72 L398.29,191.89 L398.78,191.11 L399.26,191.35 L399.75,191.57 L400.23,191.81 L400.72,191.29 L401.2,191.23 L401.69,191.3 L402.17,191.63 L402.66,191.76 L403.14,191.44 L403.63,191.42 L404.11,191.45 L404.6,191.41 L405.08,191.48 L405.57,191.18 L406.05,191.56 L406.54,191.99 L407.02,191.49 L407.51,191.79 L407.99,191.27 L408.48,191.75 L408.96,191.81 L409.45,191.74 L409.93,191.6 L410.42,191.58 L410.9,191.72 L411.39,191.96 L411.87,191.29 L412.36,191.24 L412.84,191.83 L413.33,191.99 L413.81,191.63 L414.3,191.57 L414.78,191.82 L415.27,191.35 L415.75,191.42 L416.24,191.36 L416.72,191.72 L417.21,191.48 L417.69,191.41 L418.18,191.82 L418.66,192.06 L419.15,191.47 L419.63,191.85 L420.12,191.59 L420.6,191.99 L421.09,191.75 L421.57,191.47 L422.06,191.43 L422.54,191.25 L423.03,191.67 L423.51,191.58 L424,191.4 L424.48,191.57 L424.97,191.54 L425.45,191.95 L425.94,191.39 L426.42,192.15 L426.91,191.7 L427.39,191.81 L427.88,191.69 L428.36,192.03 L428.85,192.02 L429.33,191.79 L429.82,191.72 L430.3,191.94 L430.79,192.07 L431.27,191.66 L431.76,191.96 L432.24,192.17 L432.73,191.73 L433.21,191.52 L433.7,191.53 L434.18,191.97 L434.67,191.93 L435.15,192.19 L435.64,192.1 L436.12,191.55 L436.61,191.51 L437.09,191.58 L437.58,191.52 L438.06,191.98 L438.55,192.13 L439.03,192.17 L439.52,191.59 L440,192.14 L440.49,191.65 L440.97,191.75 L441.46,192.03 L441.94,191.46 L442.43,191.47 L442.91,192.14 L443.4,191.65 L443.88,191.72 L444.37,191.92 L444.85,192.01 L445.34,191.41 L445.82,191.71 L446.31,191.81 L446.79,191.85 L447.28,191.61 L447.76,191.95 L448.25,192.29 L448.73,191.78 L449.22,191.92 L449.7,191.55 L450.19,191.69 L450.67,192.04 L451.16,191.55 L451.64,192.25 L452.13,192.27 L452.61,191.55 L453.1,192.31 L453.58,191.8 L454.07,192.17 L454.55,192.16 L455.04,191.75 L455.52,192.09 L456.01,192.08 L456.49,192.22 L456.98,191.73 L457.46,192.18 L457.95,192.37 L458.43,192.11 L458.92,191.99 L459.4,191.61 L459.89,191.96 L460.37,191.84 L460.86,192.17 L461.34,192.14 L461.82,192.04 L462.31,191.7 L462.79,192.12 L463.28,192.11 L463.76,191.71 L464.25,192.35 L464.73,192.14 L465.22,191.67 L465.7,192.4 L466.19,191.69 L466.67,191.87 L467.16,192.22 L467.64,192.11 L468.13,192.08 L468.61,192.16 L469.1,192 L469.58,191.87 L470.07,191.75 L470.55,191.66 L471.04,192.24 L471.52,192.28 L472.01,192.1 L472.49,192.28 L472.98,191.94 L473.46,191.86 L473.95,191.97 L474.43,192.41 L474.92,191.67 L475.4,192.09 L475.89,191.86 L476.37,192.33 L476.86,191.96 L477.34,191.95 L477.83,192.01 L478.31,192.14 L478.8,192.35 L479.28,191.98 L479.77,192.43 L480.25,191.77 L480.74,191.92 L481.22,191.77 L481.71,191.78 L482.19,192.39 L482.68,192.34 L483.16,191.86 L483.65,191.87 L484.13,192.07 L484.62,192.37 L485.1,192.44 L485.59,192.38 L486.07,192.25 L486.56,191.85 L487.04,192.08 L487.53,191.9 L488.01,192.2 L488.5,192.24 L488.98,191.92 L489.47,191.97 L489.95,192.45 L490.44,191.77 L490.92,192.47 L491.41,192.56 L491.89,192.61 L492.38,192.11 L492.86,192.26 L493.35,192.29 L493.83,192.34 L494.32,192.66 L494.8,192.4 L495.29,192.05 L495.77,192.56 L496.26,192.23 L496.74,192.34 L497.23,192.45 L497.71,191.8 L498.2,192.5 L498.68,192.41 L499.17,192.26 L499.65,192.29 L500.14,192.24 L500.62,192 L501.11,192.3 L501.59,191.87 L502.08,192.29 L502.56,192.42 L503.05,192.24 L503.53,192.36 L504.02,192.71 L504.5,192.66 L504.99,191.98 L505.47,192.57 L505.96,192.43 L506.44,191.91 L506.93,192.2 L507.41,192.09 L507.9,191.95 L508.38,192.37 L508.87,192.72 L509.35,192.18 L509.84,192.68 L510.32,192.52 L510.81,192.02 L511.29,192.68 L511.78,192.45 L512.26,192.75 L512.75,192.56 L513.23,192.59 L513.72,192.23 L514.2,192.65 L514.69,192.77 L515.17,192.71 L515.66,192.33 L516.14,192.62 L516.63,192.38 L517.11,192.05 L517.6,191.99 L518.08,192.03 L518.57,192.14 L519.05,192.11 L519.54,192.42 L520.02,192.6 L520.51,192.46 L520.99,192.36 L521.48,192.57 L521.96,192.26 L522.45,192.41 L522.93,192.67 L523.42,192.36 L523.9,192.16 L524.39,192.81 L524.87,192.66 L525.36,192.34 L525.84,192.35 L526.33,192.5 L526.81,192.56 L527.3,192.23 L527.78,192.03 L528.27,192.22 L528.75,192.74 L529.24,192.17 L529.72,192.46 L530.21,192.22" fill="none" stroke="#5e5e5e" stroke-width="2.0" stroke-linejoin="round" stroke-linecap="round" />
<line x1="385" y1="172.7" x2="530.4" y2="172.7" stroke="#000" stroke-width="1.0"/>
<line x1="385" y1="172.7" x2="385" y2="290.8" stroke="#000" stroke-width="1.0"/>
<line x1="385" y1="290.8" x2="530.4" y2="290.8" stroke="#000" stroke-width="1.0"/>
<line x1="530.4" y1="172.2" x2="530.4" y2="291.3" stroke="#ff4040" stroke-width="1.2"/>
<line x1="385.2" y1="290.8" x2="385.2" y2="293.4" stroke="#000" stroke-width="0.8"/>
<line x1="414.24" y1="290.8" x2="414.24" y2="293.4" stroke="#000" stroke-width="0.8"/>
<line x1="443.28" y1="290.8" x2="443.28" y2="293.4" stroke="#000" stroke-width="0.8"/>
<line x1="472.32" y1="290.8" x2="472.32" y2="293.4" stroke="#000" stroke-width="0.8"/>
<line x1="501.36" y1="290.8" x2="501.36" y2="293.4" stroke="#000" stroke-width="0.8"/>
<line x1="530.4" y1="290.8" x2="530.4" y2="293.4" stroke="#000" stroke-width="0.8"/>
<line x1="399.72" y1="290.8" x2="399.72" y2="292.3" stroke="#000" stroke-width="0.7"/>
<line x1="428.76" y1="290.8" x2="428.76" y2="292.3" stroke="#000" stroke-width="0.7"/>
<line x1="457.8" y1="290.8" x2="457.8" y2="292.3" stroke="#000" stroke-width="0.7"/>
<line x1="486.84" y1="290.8" x2="486.84" y2="292.3" stroke="#000" stroke-width="0.7"/>
<line x1="515.88" y1="290.8" x2="515.88" y2="292.3" stroke="#000" stroke-width="0.7"/>
<text x="385.2" y="299.8" font-size="7.0" text-anchor="middle" fill="#000" font-weight="bold" stroke="#000" stroke-width="0.12" >0</text>
<text x="414.24" y="299.8" font-size="7.0" text-anchor="middle" fill="#000" font-weight="bold" stroke="#000" stroke-width="0.12" >2000</text>
<text x="443.28" y="299.8" font-size="7.0" text-anchor="middle" fill="#000" font-weight="bold" stroke="#000" stroke-width="0.12" >4000</text>
<text x="472.32" y="299.8" font-size="7.0" text-anchor="middle" fill="#000" font-weight="bold" stroke="#000" stroke-width="0.12" >6000</text>
<text x="501.36" y="299.8" font-size="7.0" text-anchor="middle" fill="#000" font-weight="bold" stroke="#000" stroke-width="0.12" >8000</text>
<text x="530.4" y="299.8" font-size="7.0" text-anchor="middle" fill="#000" font-weight="bold" stroke="#000" stroke-width="0.12" >10000</text>
<line x1="385" y1="290.8" x2="382.4" y2="290.8" stroke="#000" stroke-width="0.8"/>
<line x1="385" y1="276.04" x2="382.4" y2="276.04" stroke="#000" stroke-width="0.8"/>
<line x1="385" y1="261.28" x2="382.4" y2="261.28" stroke="#000" stroke-width="0.8"/>
<line x1="385" y1="246.51" x2="382.4" y2="246.51" stroke="#000" stroke-width="0.8"/>
<line x1="385" y1="231.75" x2="382.4" y2="231.75" stroke="#000" stroke-width="0.8"/>
<line x1="385" y1="216.99" x2="382.4" y2="216.99" stroke="#000" stroke-width="0.8"/>
<line x1="385" y1="202.23" x2="382.4" y2="202.23" stroke="#000" stroke-width="0.8"/>
<line x1="385" y1="187.46" x2="382.4" y2="187.46" stroke="#000" stroke-width="0.8"/>
<line x1="385" y1="172.7" x2="382.4" y2="172.7" stroke="#000" stroke-width="0.8"/>
<line x1="385" y1="283.42" x2="383.5" y2="283.42" stroke="#000" stroke-width="0.7"/>
<line x1="385" y1="268.66" x2="383.5" y2="268.66" stroke="#000" stroke-width="0.7"/>
<line x1="385" y1="253.89" x2="383.5" y2="253.89" stroke="#000" stroke-width="0.7"/>
<line x1="385" y1="239.13" x2="383.5" y2="239.13" stroke="#000" stroke-width="0.7"/>
<line x1="385" y1="224.37" x2="383.5" y2="224.37" stroke="#000" stroke-width="0.7"/>
<line x1="385" y1="209.61" x2="383.5" y2="209.61" stroke="#000" stroke-width="0.7"/>
<line x1="385" y1="194.84" x2="383.5" y2="194.84" stroke="#000" stroke-width="0.7"/>
<line x1="385" y1="180.08" x2="383.5" y2="180.08" stroke="#000" stroke-width="0.7"/>
<text x="0" y="0" font-size="7.0" text-anchor="end" fill="#000" font-weight="bold" stroke="#000" stroke-width="0.12" transform="translate(380.5,293.18) scale(0.88,1)">0</text>
<text x="0" y="0" font-size="7.0" text-anchor="end" fill="#000" font-weight="bold" stroke="#000" stroke-width="0.12" transform="translate(380.5,278.42) scale(0.88,1)">50</text>
<text x="0" y="0" font-size="7.0" text-anchor="end" fill="#000" font-weight="bold" stroke="#000" stroke-width="0.12" transform="translate(380.5,263.66) scale(0.88,1)">100</text>
<text x="0" y="0" font-size="7.0" text-anchor="end" fill="#000" font-weight="bold" stroke="#000" stroke-width="0.12" transform="translate(380.5,248.89) scale(0.88,1)">150</text>
<text x="0" y="0" font-size="7.0" text-anchor="end" fill="#000" font-weight="bold" stroke="#000" stroke-width="0.12" transform="translate(380.5,234.13) scale(0.88,1)">200</text>
<text x="0" y="0" font-size="7.0" text-anchor="end" fill="#000" font-weight="bold" stroke="#000" stroke-width="0.12" transform="translate(380.5,219.37) scale(0.88,1)">250</text>
<text x="0" y="0" font-size="7.0" text-anchor="end" fill="#000" font-weight="bold" stroke="#000" stroke-width="0.12" transform="translate(380.5,204.61) scale(0.88,1)">300</text>
<text x="0" y="0" font-size="7.0" text-anchor="end" fill="#000" font-weight="bold" stroke="#000" stroke-width="0.12" transform="translate(380.5,189.84) scale(0.88,1)">350</text>
<text x="0" y="0" font-size="7.0" text-anchor="end" fill="#000" font-weight="bold" stroke="#000" stroke-width="0.12" transform="translate(380.5,175.08) scale(0.88,1)">400</text>
<line x1="530.4" y1="290.8" x2="533" y2="290.8" stroke="#ff4040" stroke-width="0.8"/>
<line x1="530.4" y1="269.33" x2="533" y2="269.33" stroke="#ff4040" stroke-width="0.8"/>
<line x1="530.4" y1="247.86" x2="533" y2="247.86" stroke="#ff4040" stroke-width="0.8"/>
<line x1="530.4" y1="226.38" x2="533" y2="226.38" stroke="#ff4040" stroke-width="0.8"/>
<line x1="530.4" y1="204.91" x2="533" y2="204.91" stroke="#ff4040" stroke-width="0.8"/>
<line x1="530.4" y1="183.44" x2="533" y2="183.44" stroke="#ff4040" stroke-width="0.8"/>
<line x1="530.4" y1="280.06" x2="531.9" y2="280.06" stroke="#ff4040" stroke-width="0.7"/>
<line x1="530.4" y1="258.59" x2="531.9" y2="258.59" stroke="#ff4040" stroke-width="0.7"/>
<line x1="530.4" y1="237.12" x2="531.9" y2="237.12" stroke="#ff4040" stroke-width="0.7"/>
<line x1="530.4" y1="215.65" x2="531.9" y2="215.65" stroke="#ff4040" stroke-width="0.7"/>
<line x1="530.4" y1="194.18" x2="531.9" y2="194.18" stroke="#ff4040" stroke-width="0.7"/>
<line x1="530.4" y1="172.7" x2="531.9" y2="172.7" stroke="#ff4040" stroke-width="0.7"/>
<text x="0" y="0" font-size="7.0" text-anchor="start" fill="#ff4040" font-weight="bold" stroke="#ff4040" stroke-width="0.05" transform="translate(534.6,293.18) scale(0.88,1)">0</text>
<text x="0" y="0" font-size="7.0" text-anchor="start" fill="#ff4040" font-weight="bold" stroke="#ff4040" stroke-width="0.05" transform="translate(534.6,271.71) scale(0.88,1)">20</text>
<text x="0" y="0" font-size="7.0" text-anchor="start" fill="#ff4040" font-weight="bold" stroke="#ff4040" stroke-width="0.05" transform="translate(534.6,250.24) scale(0.88,1)">40</text>
<text x="0" y="0" font-size="7.0" text-anchor="start" fill="#ff4040" font-weight="bold" stroke="#ff4040" stroke-width="0.05" transform="translate(534.6,228.76) scale(0.88,1)">60</text>
<text x="0" y="0" font-size="7.0" text-anchor="start" fill="#ff4040" font-weight="bold" stroke="#ff4040" stroke-width="0.05" transform="translate(534.6,207.29) scale(0.88,1)">80</text>
<text x="0" y="0" font-size="7.0" text-anchor="start" fill="#ff4040" font-weight="bold" stroke="#ff4040" stroke-width="0.05" transform="translate(534.6,185.82) scale(0.88,1)">100</text>
<text x="457.5" y="307.6" font-size="7.0" text-anchor="middle" fill="#000" font-weight="bold" stroke="#000" stroke-width="0.12" >Cycle Number</text>
<text x="0" y="0" font-size="7.0" text-anchor="middle" fill="#000" font-weight="bold" letter-spacing="0" stroke="#000" stroke-width="0.12" transform="translate(367.5,236) rotate(-90)">Specific Capacitance (F g<tspan dy="-3.15" font-size="5.04">-1</tspan>)</text>
<text x="0" y="0" font-size="7.0" text-anchor="middle" fill="#ff4444" font-weight="bold" letter-spacing="0.12" stroke="#ff4444" stroke-width="0.05" transform="translate(548,233.2) rotate(-90)">Coulombic Efficiency (%)</text>
<text x="366.5" y="167.4" font-size="21" text-anchor="start" fill="#000" font-weight="bold" stroke="#000" stroke-width="0.12" >f</text>
<path d="M524.8,193.6 L524.8,200.3 L516.5,200.3" fill="none" stroke="#777" stroke-width="0.7"/>
<path d="M513.8,200.3 L517,199.0 L517,201.6 Z" fill="#555"/>
<text x="500.4" y="201.6" font-size="6.6" text-anchor="start" fill="#444" font-weight="normal" stroke="#444" stroke-width="0.12" >97%</text>
</svg>
</body></html>
